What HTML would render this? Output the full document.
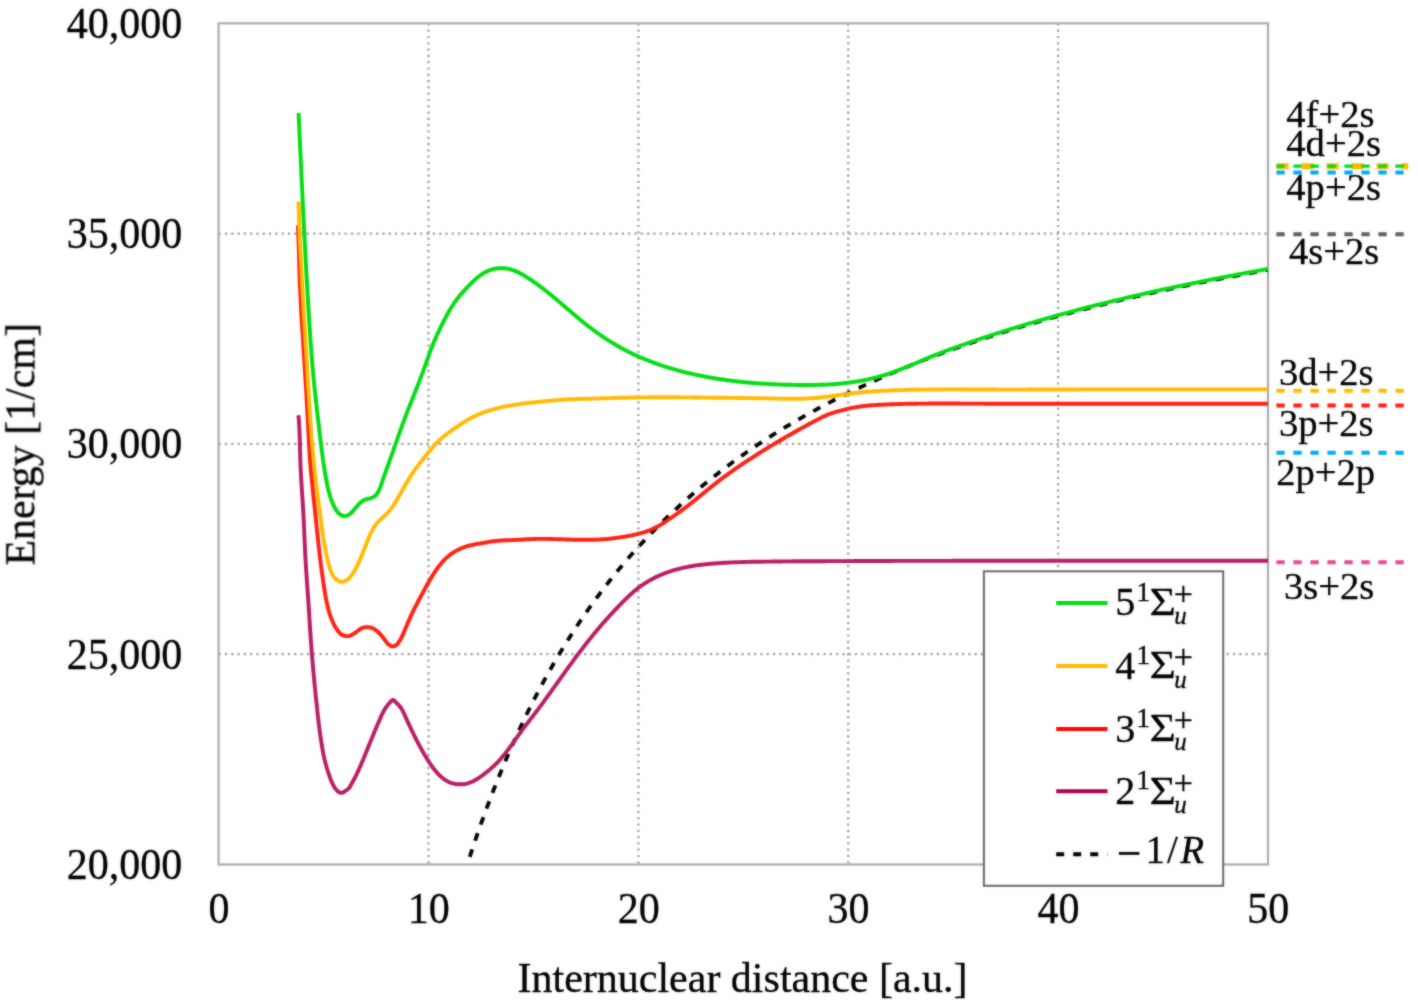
<!DOCTYPE html>
<html><head><meta charset="utf-8"><title>Potential energy curves</title>
<style>html,body{margin:0;padding:0;background:#fff;}body{width:1418px;height:1007px;overflow:hidden;font-family:"Liberation Serif",serif;}svg{display:block;}</style>
</head><body>
<svg width="1418" height="1007" viewBox="0 0 1418 1007">
<rect width="1418" height="1007" fill="#fff"/>
<filter id="bl" color-interpolation-filters="sRGB" x="0" y="0" width="1418" height="1007" filterUnits="userSpaceOnUse"><feGaussianBlur in="SourceGraphic" stdDeviation="1" result="b"/><feComposite in="SourceGraphic" in2="b" operator="arithmetic" k1="0" k2="0.50" k3="0.50" k4="0"/></filter>
<g filter="url(#bl)">
<defs><clipPath id="pc"><rect x="218.6" y="23.3" width="1049.4" height="841.2"/></clipPath></defs>
<path d="M428.5,23.3V864.5 M638.4,23.3V864.5 M848.2,23.3V864.5 M1058.1,23.3V864.5 M218.6,233.6H1268.0 M218.6,443.9H1268.0 M218.6,654.2H1268.0" stroke="#9c9c9c" stroke-width="2.2" stroke-dasharray="2.2 4.1" fill="none"/>
<rect x="218.6" y="23.3" width="1049.4" height="841.2" fill="none" stroke="#ababab" stroke-width="2.2"/>
<g clip-path="url(#pc)">
<path d="M467.3,864.5 469.3,858.3 471.3,852.2 473.3,846.1 475.3,840.2 477.3,834.4 479.3,828.6 481.3,823.0 483.3,817.4 485.3,811.9 487.3,806.5 489.3,801.2 491.3,795.9 493.3,790.7 495.3,785.6 497.3,780.6 499.3,775.7 501.3,770.8 503.3,766.0 505.3,761.2 507.3,756.5 509.3,751.9 511.3,747.4 513.3,742.9 515.3,738.4 517.3,734.1 519.3,729.7 521.3,725.5 523.3,721.3 525.3,717.1 527.3,713.0 529.3,709.0 531.3,705.0 533.3,701.1 535.3,697.2 537.3,693.3 539.3,689.5 541.3,685.8 543.3,682.1 545.3,678.4 547.3,674.8 549.3,671.3 551.3,667.8 553.3,664.3 555.3,660.8 557.3,657.4 559.3,654.1 561.3,650.8 563.3,647.5 565.3,644.2 567.3,641.0 569.3,637.9 571.3,634.7 573.3,631.6 575.3,628.6 577.3,625.5 579.3,622.5 581.3,619.6 583.3,616.6 585.3,613.7 587.3,610.9 589.3,608.0 591.3,605.2 593.3,602.5 595.3,599.7 597.3,597.0 599.3,594.3 601.3,591.6 603.3,589.0 605.3,586.4 607.3,583.8 609.3,581.3 611.3,578.8 613.3,576.3 615.3,573.8 617.3,571.3 619.3,568.9 621.3,566.5 623.3,564.1 625.3,561.8 627.3,559.4 629.3,557.1 631.3,554.8 633.3,552.6 635.3,550.3 637.3,548.1 639.3,545.9 641.3,543.7 643.3,541.6 645.3,539.4 647.3,537.3 649.3,535.2 651.3,533.1 653.3,531.1 655.3,529.0 657.3,527.0 659.3,525.0 661.3,523.0 663.3,521.1 665.3,519.1 667.3,517.2 669.3,515.3 671.3,513.4 673.3,511.5 675.3,509.6 677.3,507.8 679.3,505.9 681.3,504.1 683.3,502.3 685.3,500.5 687.3,498.7 689.3,497.0 691.3,495.2 693.3,493.5 695.3,491.8 697.3,490.1 699.3,488.4 701.3,486.7 703.3,485.1 705.3,483.4 707.3,481.8 709.3,480.2 711.3,478.6 713.3,477.0 715.3,475.4 717.3,473.9 719.3,472.3 721.3,470.8 723.3,469.2 725.3,467.7 727.3,466.2 729.3,464.7 731.3,463.3 733.3,461.8 735.3,460.3 737.3,458.9 739.3,457.5 741.3,456.0 743.3,454.6 745.3,453.2 747.3,451.8 749.3,450.4 751.3,449.1 753.3,447.7 755.3,446.4 757.3,445.0 759.3,443.7 761.3,442.4 763.3,441.1 765.3,439.8 767.3,438.5 769.3,437.2 771.3,435.9 773.3,434.6 775.3,433.4 777.3,432.1 779.3,430.9 781.3,429.7 783.3,428.5 785.3,427.2 787.3,426.0 789.3,424.8 791.3,423.7 793.3,422.5 795.3,421.3 797.3,420.2 799.3,419.0 801.3,417.9 803.3,416.7 805.3,415.6 807.3,414.5 809.3,413.4 811.3,412.2 813.3,411.1 815.3,410.1 817.3,409.0 819.3,407.9 821.3,406.8 823.3,405.8 825.3,404.7 827.3,403.7 829.3,402.6 831.3,401.6 833.3,400.5 835.3,399.5 837.3,398.5 839.3,397.5 841.3,396.5 843.3,395.5 845.3,394.5 847.3,393.5 849.3,392.5 851.3,391.6 853.3,390.6 855.3,389.7 857.3,388.7 859.3,387.8 861.3,386.8 863.3,385.9 865.3,384.9 867.3,384.0 869.3,383.1 871.3,382.2 873.3,381.3 875.3,380.4 877.3,379.5 879.3,378.6 881.3,377.7 883.3,376.8 885.3,376.0 887.3,375.1 889.3,374.2 891.3,373.4 893.3,372.5 895.3,371.7 897.3,370.8 899.3,370.0 901.3,369.1 903.3,368.3 905.3,367.5 907.3,366.7 909.3,365.9 911.3,365.0 913.3,364.2 915.3,363.4 917.3,362.6 919.3,361.9 921.3,361.1 923.3,360.3 925.3,359.5 927.3,358.7 929.3,358.0 931.3,357.2 933.3,356.4 935.3,355.7 937.3,354.9 939.3,354.2 941.3,353.4 943.3,352.7 945.3,352.0 947.3,351.2 949.3,350.5 951.3,349.8 953.3,349.1 955.3,348.3 957.3,347.6 959.3,346.9 961.3,346.2 963.3,345.5 965.3,344.8 967.3,344.1 969.3,343.4 971.3,342.8 973.3,342.1 975.3,341.4 977.3,340.7 979.3,340.0 981.3,339.4 983.3,338.7 985.3,338.0 987.3,337.4 989.3,336.7 991.3,336.1 993.3,335.4 995.3,334.8 997.3,334.2 999.3,333.5 1001.3,332.9 1003.3,332.3 1005.3,331.6 1007.3,331.0 1009.3,330.4 1011.3,329.8 1013.3,329.1 1015.3,328.5 1017.3,327.9 1019.3,327.3 1021.3,326.7 1023.3,326.1 1025.3,325.5 1027.3,324.9 1029.3,324.3 1031.3,323.7 1033.3,323.2 1035.3,322.6 1037.3,322.0 1039.3,321.4 1041.3,320.8 1043.3,320.3 1045.3,319.7 1047.3,319.1 1049.3,318.6 1051.3,318.0 1053.3,317.5 1055.3,316.9 1057.3,316.4 1059.3,315.8 1061.3,315.3 1063.3,314.7 1065.3,314.2 1067.3,313.6 1069.3,313.1 1071.3,312.6 1073.3,312.0 1075.3,311.5 1077.3,311.0 1079.3,310.4 1081.3,309.9 1083.3,309.4 1085.3,308.9 1087.3,308.4 1089.3,307.9 1091.3,307.4 1093.3,306.8 1095.3,306.3 1097.3,305.8 1099.3,305.3 1101.3,304.8 1103.3,304.3 1105.3,303.8 1107.3,303.4 1109.3,302.9 1111.3,302.4 1113.3,301.9 1115.3,301.4 1117.3,300.9 1119.3,300.5 1121.3,300.0 1123.3,299.5 1125.3,299.0 1127.3,298.6 1129.3,298.1 1131.3,297.6 1133.3,297.2 1135.3,296.7 1137.3,296.2 1139.3,295.8 1141.3,295.3 1143.3,294.9 1145.3,294.4 1147.3,294.0 1149.3,293.5 1151.3,293.1 1153.3,292.6 1155.3,292.2 1157.3,291.7 1159.3,291.3 1161.3,290.9 1163.3,290.4 1165.3,290.0 1167.3,289.6 1169.3,289.1 1171.3,288.7 1173.3,288.3 1175.3,287.9 1177.3,287.4 1179.3,287.0 1181.3,286.6 1183.3,286.2 1185.3,285.8 1187.3,285.4 1189.3,284.9 1191.3,284.5 1193.3,284.1 1195.3,283.7 1197.3,283.3 1199.3,282.9 1201.3,282.5 1203.3,282.1 1205.3,281.7 1207.3,281.3 1209.3,280.9 1211.3,280.5 1213.3,280.1 1215.3,279.7 1217.3,279.3 1219.3,279.0 1221.3,278.6 1223.3,278.2 1225.3,277.8 1227.3,277.4 1229.3,277.0 1231.3,276.7 1233.3,276.3 1235.3,275.9 1237.3,275.5 1239.3,275.2 1241.3,274.8 1243.3,274.4 1245.3,274.1 1247.3,273.7 1249.3,273.3 1251.3,273.0 1253.3,272.6 1255.3,272.2 1257.3,271.9 1259.3,271.5 1261.3,271.2 1263.3,270.8 1265.3,270.4 1267.3,270.1 1268.0,270.0" stroke="#000" stroke-width="3.8" stroke-dasharray="8 9" stroke-dashoffset="9" fill="none"/>
<path d="M298.4,415.2 298.5,416.2 298.6,417.2 298.7,418.2 298.8,419.2 298.9,420.2 298.9,421.2 299.0,422.2 299.1,423.2 299.1,424.2 299.2,425.2 299.2,426.2 299.3,427.2 299.3,428.2 299.4,429.2 299.4,430.2 299.5,431.2 299.5,432.2 299.6,433.2 299.6,434.2 299.6,435.2 299.7,436.2 299.7,437.2 299.7,438.2 299.8,439.2 299.8,440.2 299.8,441.2 299.8,442.2 299.9,443.2 299.9,444.2 299.9,445.2 299.9,446.2 300.0,447.2 300.0,448.1 300.0,449.1 300.0,450.1 300.1,451.1 300.1,452.1 300.1,453.1 300.1,454.1 300.2,455.1 300.2,456.1 300.2,457.1 300.3,458.1 300.3,459.1 300.3,460.1 300.3,461.1 300.4,462.1 300.4,463.1 300.5,464.1 300.5,465.1 300.5,466.1 300.6,467.1 300.6,468.1 300.7,469.1 300.7,470.1 300.8,471.1 300.8,472.1 300.9,473.1 300.9,474.1 301.0,475.1 301.0,476.1 301.1,477.1 301.1,478.1 301.2,479.1 301.3,480.1 301.3,481.1 301.4,482.1 301.4,483.1 301.5,484.1 301.6,485.1 301.6,486.1 301.7,487.1 301.8,488.1 301.8,489.1 301.9,490.1 302.0,491.1 302.0,492.1 302.1,493.1 302.2,494.1 302.2,495.1 302.3,496.1 302.4,497.1 302.4,498.0 302.5,499.0 302.6,500.0 302.6,501.0 302.7,502.0 302.8,503.0 302.8,504.0 302.9,505.0 302.9,506.0 303.0,507.0 303.1,508.0 303.1,509.0 303.2,510.0 303.2,511.0 303.3,512.0 303.3,513.0 303.4,514.0 303.5,515.0 303.5,516.0 303.6,517.0 303.6,518.0 303.7,519.0 303.7,520.0 303.8,521.0 303.8,522.0 303.8,523.0 303.9,524.0 303.9,525.0 304.0,526.0 304.0,527.0 304.1,528.0 304.1,529.0 304.2,530.0 304.2,531.0 304.2,532.0 304.3,533.0 304.3,534.0 304.4,535.0 304.4,536.0 304.5,537.0 304.5,538.0 304.5,539.0 304.6,540.0 304.6,541.0 304.7,542.0 304.7,543.0 304.8,544.0 304.8,545.0 304.9,546.0 304.9,547.0 304.9,548.0 305.0,549.0 305.0,550.0 305.1,550.9 305.1,551.9 305.2,552.9 305.2,553.9 305.3,554.9 305.3,555.9 305.4,556.9 305.4,557.9 305.5,558.9 305.6,559.9 305.6,560.9 305.7,561.9 305.7,562.9 305.8,563.9 305.9,564.9 305.9,565.9 306.0,566.9 306.0,567.9 306.1,568.9 306.2,569.9 306.2,570.9 306.3,571.9 306.4,572.9 306.4,573.9 306.5,574.9 306.6,575.9 306.6,576.9 306.7,577.9 306.8,578.9 306.8,579.9 306.9,580.9 307.0,581.9 307.0,582.9 307.1,583.9 307.2,584.9 307.3,585.9 307.3,586.9 307.4,587.8 307.5,588.8 307.5,589.8 307.6,590.8 307.7,591.8 307.7,592.8 307.8,593.8 307.9,594.8 308.0,595.8 308.0,596.8 308.1,597.8 308.2,598.8 308.2,599.8 308.3,600.8 308.4,601.8 308.4,602.8 308.5,603.8 308.6,604.8 308.6,605.8 308.7,606.8 308.8,607.8 308.8,608.8 308.9,609.8 309.0,610.8 309.0,611.8 309.1,612.8 309.2,613.8 309.2,614.8 309.3,615.8 309.3,616.8 309.4,617.8 309.5,618.8 309.5,619.8 309.6,620.8 309.7,621.8 309.7,622.7 309.8,623.7 309.8,624.7 309.9,625.7 310.0,626.7 310.0,627.7 310.1,628.7 310.2,629.7 310.2,630.7 310.3,631.7 310.4,632.7 310.4,633.7 310.5,634.7 310.6,635.7 310.6,636.7 310.7,637.7 310.8,638.7 310.8,639.7 310.9,640.7 311.0,641.7 311.0,642.7 311.1,643.7 311.2,644.7 311.3,645.7 311.3,646.7 311.4,647.7 311.5,648.7 311.6,649.7 311.6,650.7 311.7,651.7 311.8,652.7 311.9,653.7 311.9,654.6 312.0,655.6 312.1,656.6 312.2,657.6 312.3,658.6 312.4,659.6 312.4,660.6 312.5,661.6 312.6,662.6 312.7,663.6 312.8,664.6 312.9,665.6 313.0,666.6 313.0,667.6 313.1,668.6 313.2,669.6 313.3,670.6 313.4,671.6 313.5,672.6 313.6,673.6 313.7,674.6 313.8,675.6 313.9,676.5 314.0,677.5 314.1,678.5 314.2,679.5 314.3,680.5 314.3,681.5 314.4,682.5 314.5,683.5 314.6,684.5 314.7,685.5 314.8,686.5 314.9,687.5 315.0,688.5 315.1,689.5 315.2,690.5 315.3,691.5 315.4,692.5 315.5,693.5 315.6,694.4 315.7,695.4 315.8,696.4 315.9,697.4 316.0,698.4 316.1,699.4 316.2,700.4 316.3,701.4 316.4,702.4 316.5,703.4 316.7,704.4 316.8,705.4 316.9,706.4 317.0,707.4 317.1,708.4 317.2,709.4 317.3,710.4 317.4,711.4 317.5,712.3 317.6,713.3 317.7,714.3 317.8,715.3 317.9,716.3 318.0,717.3 318.2,718.3 318.3,719.3 318.4,720.3 318.5,721.3 318.6,722.3 318.7,723.3 318.9,724.3 319.0,725.3 319.1,726.2 319.2,727.2 319.3,728.2 319.5,729.2 319.6,730.2 319.7,731.2 319.9,732.2 320.0,733.2 320.1,734.2 320.3,735.2 320.4,736.1 320.6,737.1 320.7,738.1 320.8,739.1 321.0,740.1 321.1,741.1 321.3,742.1 321.5,743.1 321.6,744.0 321.8,745.0 321.9,746.0 322.1,747.0 322.3,748.0 322.4,749.0 322.6,750.0 322.8,750.9 323.0,751.9 323.1,752.9 323.3,753.9 323.5,754.9 323.7,755.8 323.9,756.8 324.2,757.8 324.4,758.8 324.6,759.7 324.9,760.7 325.1,761.7 325.4,762.6 325.6,763.6 325.9,764.6 326.2,765.5 326.5,766.5 326.7,767.5 327.0,768.4 327.3,769.4 327.6,770.3 327.9,771.3 328.2,772.2 328.5,773.2 328.8,774.1 329.1,775.0 329.4,776.0 329.8,776.9 330.1,777.9 330.4,778.8 330.8,779.7 331.2,780.7 331.6,781.6 332.0,782.5 332.4,783.4 332.8,784.3 333.3,785.2 333.8,786.1 334.3,787.0 334.8,787.8 335.4,788.6 336.0,789.4 336.6,790.2 337.3,790.9 338.0,791.5 338.8,792.0 339.7,792.5 340.6,792.7 341.5,792.8 342.5,792.6 343.3,792.3 344.2,791.8 345.1,791.2 345.9,790.6 346.8,790.0 347.6,789.4 348.4,788.8 349.0,788.1 349.6,787.4 350.1,786.5 350.5,785.6 351.0,784.8 351.5,783.9 352.0,783.0 352.5,782.1 353.0,781.2 353.5,780.4 354.0,779.5 354.4,778.6 354.9,777.7 355.3,776.8 355.8,775.9 356.2,775.0 356.7,774.1 357.1,773.2 357.5,772.3 357.9,771.4 358.4,770.5 358.8,769.6 359.2,768.7 359.6,767.8 360.0,766.9 360.4,766.0 360.8,765.1 361.2,764.1 361.6,763.2 362.0,762.3 362.4,761.4 362.8,760.5 363.2,759.5 363.5,758.6 363.9,757.7 364.3,756.8 364.7,755.8 365.1,754.9 365.4,754.0 365.8,753.1 366.2,752.1 366.6,751.2 366.9,750.3 367.3,749.4 367.7,748.4 368.1,747.5 368.4,746.6 368.8,745.6 369.2,744.7 369.6,743.8 369.9,742.9 370.3,741.9 370.7,741.0 371.1,740.1 371.5,739.2 371.8,738.2 372.2,737.3 372.6,736.4 373.0,735.5 373.4,734.6 373.7,733.6 374.1,732.7 374.5,731.8 374.9,730.9 375.3,730.0 375.7,729.0 376.0,728.1 376.4,727.2 376.8,726.3 377.2,725.4 377.6,724.4 378.0,723.5 378.4,722.6 378.8,721.7 379.2,720.7 379.6,719.8 380.0,718.9 380.4,718.0 380.8,717.0 381.2,716.1 381.6,715.2 382.0,714.3 382.5,713.4 382.9,712.5 383.4,711.7 383.9,710.8 384.4,709.9 384.9,709.1 385.4,708.3 385.9,707.5 386.5,706.7 387.1,705.9 387.7,705.1 388.3,704.3 389.0,703.5 389.7,702.7 390.4,701.9 391.1,701.1 391.8,700.4 392.6,700.0 393.3,700.0 394.0,700.3 394.7,701.0 395.4,701.8 396.1,702.6 396.9,703.3 397.6,704.0 398.4,704.8 399.1,705.5 399.7,706.3 400.3,707.0 400.9,707.8 401.4,708.6 401.9,709.5 402.4,710.3 402.8,711.2 403.3,712.1 403.7,712.9 404.2,713.8 404.6,714.7 405.0,715.7 405.4,716.6 405.8,717.5 406.2,718.4 406.6,719.3 407.0,720.2 407.4,721.2 407.9,722.1 408.3,723.0 408.7,723.9 409.1,724.8 409.5,725.7 410.0,726.6 410.4,727.5 410.8,728.4 411.2,729.3 411.7,730.2 412.1,731.1 412.5,732.0 413.0,732.9 413.4,733.8 413.8,734.7 414.3,735.6 414.7,736.5 415.2,737.4 415.6,738.3 416.1,739.2 416.5,740.1 417.0,741.0 417.5,741.9 417.9,742.8 418.4,743.6 418.9,744.5 419.3,745.4 419.8,746.3 420.3,747.1 420.8,748.0 421.3,748.9 421.7,749.8 422.2,750.6 422.7,751.5 423.2,752.4 423.7,753.2 424.2,754.1 424.7,755.0 425.2,755.8 425.7,756.7 426.3,757.5 426.8,758.4 427.3,759.2 427.8,760.1 428.4,760.9 428.9,761.8 429.4,762.6 430.0,763.5 430.5,764.3 431.1,765.1 431.7,765.9 432.3,766.7 432.8,767.5 433.4,768.3 434.1,769.1 434.7,769.9 435.3,770.7 435.9,771.4 436.6,772.2 437.3,772.9 437.9,773.7 438.6,774.4 439.3,775.1 440.1,775.8 440.8,776.5 441.6,777.2 442.3,777.8 443.1,778.4 443.9,779.0 444.7,779.6 445.6,780.2 446.4,780.7 447.3,781.2 448.1,781.7 449.0,782.1 450.0,782.5 450.9,782.8 451.8,783.1 452.8,783.4 453.7,783.7 454.7,783.9 455.7,784.0 456.7,784.2 457.7,784.3 458.7,784.3 459.7,784.3 460.7,784.3 461.7,784.3 462.7,784.2 463.7,784.1 464.7,784.0 465.6,783.8 466.6,783.6 467.6,783.3 468.6,783.0 469.5,782.7 470.4,782.4 471.4,782.0 472.3,781.6 473.2,781.2 474.1,780.7 474.9,780.2 475.8,779.7 476.7,779.2 477.5,778.7 478.4,778.2 479.2,777.6 480.0,777.1 480.8,776.5 481.6,775.9 482.5,775.4 483.2,774.8 484.0,774.2 484.8,773.5 485.6,772.9 486.4,772.3 487.2,771.7 488.0,771.0 488.7,770.4 489.5,769.8 490.3,769.1 491.0,768.5 491.8,767.8 492.5,767.1 493.3,766.5 494.0,765.8 494.7,765.1 495.5,764.4 496.2,763.7 496.9,763.0 497.6,762.3 498.3,761.5 498.9,760.8 499.6,760.1 500.3,759.3 500.9,758.6 501.6,757.8 502.2,757.1 502.9,756.3 503.5,755.5 504.1,754.8 504.8,754.0 505.4,753.2 506.0,752.4 506.6,751.6 507.2,750.8 507.8,750.1 508.4,749.3 509.0,748.5 509.6,747.6 510.2,746.8 510.8,746.0 511.4,745.2 512.0,744.4 512.5,743.6 513.1,742.8 513.7,742.0 514.3,741.1 514.9,740.3 515.4,739.5 516.0,738.7 516.6,737.9 517.2,737.1 517.7,736.2 518.3,735.4 518.9,734.6 519.5,733.8 520.1,733.0 520.7,732.2 521.2,731.4 521.8,730.6 522.4,729.7 523.0,728.9 523.6,728.1 524.2,727.3 524.8,726.6 525.4,725.8 526.0,725.0 526.6,724.2 527.3,723.4 527.9,722.6 528.5,721.8 529.1,721.0 529.7,720.2 530.3,719.4 530.9,718.7 531.5,717.9 532.2,717.1 532.8,716.3 533.4,715.5 534.0,714.7 534.6,713.9 535.2,713.1 535.8,712.3 536.4,711.5 537.0,710.7 537.6,710.0 538.2,709.2 538.8,708.4 539.4,707.5 540.0,706.7 540.6,705.9 541.2,705.1 541.8,704.3 542.4,703.5 543.0,702.7 543.6,701.9 544.2,701.1 544.7,700.3 545.3,699.5 545.9,698.7 546.5,697.9 547.1,697.1 547.7,696.2 548.3,695.4 548.8,694.6 549.4,693.8 550.0,693.0 550.6,692.2 551.2,691.4 551.7,690.6 552.3,689.7 552.9,688.9 553.5,688.1 554.1,687.3 554.7,686.5 555.2,685.7 555.8,684.9 556.4,684.1 557.0,683.2 557.6,682.4 558.1,681.6 558.7,680.8 559.3,680.0 559.9,679.2 560.5,678.4 561.0,677.6 561.6,676.7 562.2,675.9 562.8,675.1 563.4,674.3 564.0,673.5 564.5,672.7 565.1,671.9 565.7,671.1 566.3,670.2 566.9,669.4 567.5,668.6 568.0,667.8 568.6,667.0 569.2,666.2 569.8,665.4 570.4,664.6 571.0,663.8 571.6,663.0 572.2,662.2 572.8,661.4 573.4,660.6 573.9,659.8 574.5,659.0 575.1,658.2 575.7,657.3 576.3,656.5 576.9,655.7 577.5,654.9 578.1,654.1 578.7,653.3 579.3,652.6 579.9,651.8 580.5,651.0 581.1,650.2 581.8,649.4 582.4,648.6 583.0,647.8 583.6,647.0 584.2,646.2 584.8,645.4 585.4,644.6 586.0,643.8 586.6,643.0 587.3,642.3 587.9,641.5 588.5,640.7 589.1,639.9 589.7,639.1 590.4,638.4 591.0,637.6 591.6,636.8 592.3,636.0 592.9,635.2 593.5,634.5 594.1,633.7 594.8,632.9 595.4,632.2 596.1,631.4 596.7,630.6 597.3,629.9 598.0,629.1 598.6,628.3 599.3,627.6 599.9,626.8 600.6,626.0 601.2,625.3 601.9,624.5 602.5,623.8 603.2,623.0 603.8,622.3 604.5,621.5 605.2,620.8 605.8,620.0 606.5,619.3 607.2,618.5 607.8,617.8 608.5,617.1 609.2,616.3 609.8,615.6 610.5,614.9 611.2,614.1 611.9,613.4 612.6,612.7 613.2,611.9 613.9,611.2 614.6,610.5 615.3,609.7 616.0,609.0 616.7,608.3 617.4,607.6 618.1,606.8 618.7,606.1 619.4,605.4 620.1,604.7 620.8,604.0 621.5,603.3 622.2,602.5 622.9,601.8 623.6,601.1 624.3,600.4 625.1,599.7 625.8,599.0 626.5,598.3 627.2,597.6 627.9,596.9 628.6,596.2 629.4,595.5 630.1,594.9 630.8,594.2 631.6,593.5 632.3,592.9 633.1,592.2 633.8,591.5 634.6,590.9 635.4,590.3 636.1,589.6 636.9,589.0 637.7,588.4 638.5,587.8 639.3,587.2 640.1,586.6 640.9,586.0 641.7,585.4 642.5,584.9 643.4,584.3 644.2,583.8 645.0,583.2 645.9,582.7 646.7,582.2 647.6,581.6 648.4,581.1 649.3,580.6 650.1,580.1 651.0,579.6 651.9,579.2 652.8,578.7 653.7,578.2 654.6,577.8 655.4,577.3 656.3,576.9 657.2,576.5 658.2,576.1 659.1,575.6 660.0,575.2 660.9,574.8 661.8,574.5 662.8,574.1 663.7,573.7 664.6,573.4 665.5,573.0 666.5,572.7 667.4,572.3 668.4,572.0 669.3,571.7 670.3,571.3 671.2,571.0 672.2,570.7 673.1,570.4 674.1,570.2 675.0,569.9 676.0,569.6 677.0,569.3 677.9,569.1 678.9,568.8 679.9,568.6 680.8,568.4 681.8,568.1 682.8,567.9 683.7,567.7 684.7,567.5 685.7,567.3 686.7,567.1 687.7,566.9 688.6,566.7 689.6,566.5 690.6,566.3 691.6,566.2 692.6,566.0 693.5,565.8 694.5,565.7 695.5,565.5 696.5,565.4 697.5,565.2 698.5,565.1 699.5,565.0 700.5,564.8 701.5,564.7 702.4,564.6 703.4,564.5 704.4,564.4 705.4,564.3 706.4,564.2 707.4,564.1 708.4,564.0 709.4,563.9 710.4,563.8 711.4,563.7 712.4,563.6 713.4,563.5 714.4,563.5 715.4,563.4 716.4,563.3 717.4,563.2 718.4,563.2 719.4,563.1 720.4,563.0 721.4,563.0 722.4,562.9 723.4,562.8 724.4,562.8 725.4,562.7 726.4,562.7 727.4,562.6 728.4,562.6 729.4,562.5 730.4,562.5 731.4,562.4 732.4,562.4 733.4,562.4 734.4,562.3 735.4,562.3 736.4,562.2 737.4,562.2 738.4,562.2 739.3,562.1 740.3,562.1 741.3,562.1 742.3,562.0 743.3,562.0 744.3,562.0 745.3,562.0 746.3,561.9 747.3,561.9 748.3,561.9 749.3,561.9 750.3,561.9 751.3,561.8 752.3,561.8 753.3,561.8 754.3,561.8 755.3,561.8 756.3,561.7 757.3,561.7 758.3,561.7 759.3,561.7 760.3,561.7 761.3,561.7 762.3,561.7 763.3,561.6 764.3,561.6 765.3,561.6 766.3,561.6 767.3,561.6 768.3,561.6 769.3,561.6 770.3,561.6 771.3,561.6 772.3,561.5 773.3,561.5 774.3,561.5 775.3,561.5 776.3,561.5 777.3,561.5 778.3,561.5 779.3,561.5 780.3,561.5 781.3,561.5 782.3,561.4 783.3,561.4 784.3,561.4 785.3,561.4 786.3,561.4 787.3,561.4 788.3,561.4 789.3,561.4 790.3,561.4 791.3,561.4 792.3,561.4 793.3,561.3 794.3,561.3 795.3,561.3 796.3,561.3 797.3,561.3 798.3,561.3 799.3,561.3 800.3,561.3 801.3,561.3 802.3,561.3 803.3,561.3 804.3,561.3 805.3,561.3 806.3,561.3 807.3,561.2 808.3,561.2 809.3,561.2 810.3,561.2 811.3,561.2 812.3,561.2 813.3,561.2 814.3,561.2 815.3,561.2 816.3,561.2 817.3,561.2 818.3,561.2 819.3,561.2 820.3,561.2 821.3,561.2 822.3,561.2 823.3,561.2 824.3,561.2 825.3,561.2 826.3,561.1 827.3,561.1 828.3,561.1 829.3,561.1 830.3,561.1 831.3,561.1 832.3,561.1 833.3,561.1 834.3,561.1 835.3,561.1 836.3,561.1 837.3,561.1 838.3,561.1 839.3,561.1 840.3,561.1 841.3,561.1 842.3,561.1 843.3,561.1 844.3,561.1 845.3,561.1 846.3,561.1 847.3,561.1 848.3,561.1 849.3,561.1 850.3,561.1 851.3,561.1 852.3,561.1 853.3,561.0 854.3,561.0 855.3,561.0 856.3,561.0 857.3,561.0 858.3,561.0 859.3,561.0 860.3,561.0 861.3,561.0 862.3,561.0 863.3,561.0 864.3,561.0 865.3,561.0 866.3,561.0 867.3,561.0 868.3,561.0 869.2,561.0 870.2,561.0 871.2,561.0 872.2,561.0 873.2,561.0 874.2,561.0 875.2,561.0 876.2,561.0 877.2,561.0 878.2,561.0 879.2,561.0 880.2,561.0 881.2,561.0 882.2,561.0 883.2,561.0 884.2,561.0 885.2,561.0 886.2,561.0 887.2,561.0 888.2,561.0 889.2,561.0 890.2,561.0 891.2,561.0 892.2,561.0 893.2,560.9 894.2,560.9 895.2,560.9 896.2,560.9 897.2,560.9 898.2,560.9 899.2,560.9 900.2,560.9 901.2,560.9 902.2,560.9 903.2,560.9 904.2,560.9 905.2,560.9 906.2,560.9 907.2,560.9 908.2,560.9 909.2,560.9 910.2,560.9 911.2,560.9 912.2,560.9 913.2,560.9 914.2,560.9 915.2,560.9 916.2,560.9 917.2,560.9 918.2,560.9 919.2,560.9 920.2,560.9 921.2,560.9 922.2,560.9 923.2,560.9 924.2,560.9 925.2,560.9 926.2,560.9 927.2,560.9 928.2,560.9 929.2,560.9 930.2,560.9 931.2,560.9 932.2,560.9 933.2,560.9 934.2,560.9 935.2,560.9 936.2,560.9 937.2,560.9 938.2,560.9 939.2,560.9 940.2,560.9 941.2,560.9 942.2,560.9 943.2,560.9 944.2,560.9 945.2,560.9 946.2,560.9 947.2,560.9 948.2,560.9 949.2,560.9 950.2,560.9 951.2,560.9 952.2,560.9 953.2,560.8 954.2,560.8 955.2,560.8 956.2,560.8 957.2,560.8 958.2,560.8 959.2,560.8 960.2,560.8 961.2,560.8 962.2,560.8 963.2,560.8 964.2,560.8 965.2,560.8 966.2,560.8 967.2,560.8 968.2,560.8 969.2,560.8 970.2,560.8 971.2,560.8 972.2,560.8 973.2,560.8 974.2,560.8 975.2,560.8 976.2,560.8 977.2,560.8 978.2,560.8 979.2,560.8 980.2,560.8 981.2,560.8 982.2,560.8 983.2,560.8 984.2,560.8 985.2,560.8 986.2,560.8 987.2,560.8 988.2,560.8 989.2,560.8 990.2,560.8 991.2,560.8 992.2,560.8 993.2,560.8 994.2,560.8 995.2,560.8 996.2,560.8 997.2,560.8 998.2,560.8 999.2,560.8 1000.2,560.8 1001.2,560.8 1002.2,560.8 1003.2,560.8 1004.2,560.8 1005.2,560.8 1006.2,560.8 1007.2,560.8 1008.2,560.8 1009.2,560.8 1010.2,560.8 1011.2,560.8 1012.2,560.8 1013.2,560.8 1014.2,560.8 1015.2,560.8 1016.2,560.8 1017.2,560.8 1018.2,560.8 1019.2,560.8 1020.2,560.8 1021.2,560.8 1022.2,560.8 1023.2,560.8 1024.2,560.8 1025.2,560.8 1026.2,560.8 1027.2,560.8 1028.2,560.8 1029.2,560.8 1030.1,560.8 1031.1,560.8 1032.1,560.8 1033.1,560.8 1034.1,560.8 1035.1,560.8 1036.1,560.8 1037.1,560.8 1038.1,560.8 1039.1,560.8 1040.1,560.8 1041.1,560.8 1042.1,560.8 1043.1,560.8 1044.1,560.8 1045.1,560.8 1046.1,560.8 1047.1,560.8 1048.1,560.8 1049.1,560.8 1050.1,560.8 1051.1,560.8 1052.1,560.8 1053.1,560.8 1054.1,560.8 1055.1,560.8 1056.1,560.8 1057.1,560.8 1058.1,560.8 1059.1,560.8 1060.1,560.8 1061.1,560.8 1062.1,560.8 1063.1,560.8 1064.1,560.8 1065.1,560.8 1066.1,560.8 1067.1,560.8 1068.1,560.8 1069.1,560.8 1070.1,560.8 1071.1,560.8 1072.1,560.8 1073.1,560.8 1074.1,560.8 1075.1,560.8 1076.1,560.8 1077.1,560.8 1078.1,560.8 1079.1,560.8 1080.1,560.8 1081.1,560.8 1082.1,560.8 1083.1,560.8 1084.1,560.8 1085.1,560.8 1086.1,560.8 1087.1,560.8 1088.1,560.8 1089.1,560.8 1090.1,560.8 1091.1,560.8 1092.1,560.8 1093.1,560.8 1094.1,560.8 1095.1,560.8 1096.1,560.8 1097.1,560.8 1098.1,560.8 1099.1,560.8 1100.1,560.8 1101.1,560.8 1102.1,560.8 1103.1,560.8 1104.1,560.8 1105.1,560.8 1106.1,560.8 1107.1,560.8 1108.1,560.8 1109.1,560.8 1110.1,560.8 1111.1,560.8 1112.1,560.8 1113.1,560.8 1114.1,560.8 1115.1,560.8 1116.1,560.8 1117.1,560.8 1118.1,560.8 1119.1,560.8 1120.1,560.8 1121.1,560.8 1122.1,560.8 1123.1,560.8 1124.1,560.8 1125.1,560.8 1126.1,560.8 1127.1,560.8 1128.1,560.8 1129.1,560.8 1130.1,560.8 1131.1,560.8 1132.1,560.8 1133.1,560.8 1134.1,560.8 1135.1,560.8 1136.1,560.8 1137.1,560.8 1138.1,560.8 1139.1,560.8 1140.1,560.8 1141.1,560.8 1142.1,560.8 1143.1,560.8 1144.1,560.8 1145.1,560.8 1146.1,560.8 1147.1,560.8 1148.1,560.8 1149.1,560.8 1150.1,560.8 1151.1,560.7 1152.1,560.7 1153.1,560.7 1154.1,560.7 1155.1,560.7 1156.1,560.7 1157.1,560.7 1158.1,560.7 1159.1,560.7 1160.1,560.7 1161.1,560.7 1162.1,560.7 1163.1,560.7 1164.1,560.7 1165.1,560.7 1166.1,560.7 1167.1,560.7 1168.1,560.7 1169.1,560.7 1170.1,560.7 1171.1,560.7 1172.1,560.7 1173.1,560.7 1174.1,560.7 1175.1,560.7 1176.1,560.7 1177.1,560.7 1178.1,560.7 1179.1,560.7 1180.1,560.7 1181.1,560.7 1182.1,560.7 1183.1,560.7 1184.1,560.7 1185.1,560.7 1186.1,560.7 1187.1,560.7 1188.0,560.7 1189.0,560.7 1190.0,560.7 1191.0,560.7 1192.0,560.7 1193.0,560.7 1194.0,560.7 1195.0,560.7 1196.0,560.7 1197.0,560.7 1198.0,560.7 1199.0,560.7 1200.0,560.7 1201.0,560.7 1202.0,560.7 1203.0,560.7 1204.0,560.7 1205.0,560.7 1206.0,560.7 1207.0,560.7 1208.0,560.7 1209.0,560.7 1210.0,560.7 1211.0,560.7 1212.0,560.7 1213.0,560.7 1214.0,560.7 1215.0,560.7 1216.0,560.7 1217.0,560.7 1218.0,560.7 1219.0,560.7 1220.0,560.7 1221.0,560.7 1222.0,560.7 1223.0,560.7 1224.0,560.7 1225.0,560.7 1226.0,560.7 1227.0,560.7 1228.0,560.7 1229.0,560.7 1230.0,560.7 1231.0,560.7 1232.0,560.7 1233.0,560.7 1234.0,560.7 1235.0,560.7 1236.0,560.7 1237.0,560.7 1238.0,560.7 1239.0,560.7 1240.0,560.7 1241.0,560.7 1242.0,560.7 1243.0,560.7 1244.0,560.7 1245.0,560.7 1246.0,560.7 1247.0,560.7 1248.0,560.7 1249.0,560.7 1250.0,560.7 1251.0,560.7 1252.0,560.7 1253.0,560.7 1254.0,560.7 1255.0,560.7 1256.0,560.7 1257.0,560.7 1258.0,560.7 1259.0,560.7 1260.0,560.7 1261.0,560.7 1262.0,560.7 1263.0,560.7 1264.0,560.7 1265.0,560.7 1266.0,560.7 1267.0,560.7 1268.0,560.7" stroke="#b81a62" stroke-width="3.9" fill="none" stroke-linejoin="round"/>
<path d="M297.9,225.3 298.0,226.3 298.0,227.3 298.1,228.3 298.1,229.3 298.1,230.3 298.2,231.3 298.2,232.3 298.3,233.3 298.3,234.3 298.3,235.3 298.4,236.3 298.4,237.3 298.4,238.3 298.5,239.3 298.5,240.3 298.5,241.3 298.6,242.3 298.6,243.3 298.6,244.3 298.7,245.3 298.7,246.3 298.7,247.3 298.8,248.3 298.8,249.3 298.8,250.3 298.8,251.3 298.9,252.3 298.9,253.3 298.9,254.3 299.0,255.3 299.0,256.3 299.0,257.3 299.0,258.3 299.1,259.3 299.1,260.3 299.1,261.3 299.2,262.3 299.2,263.3 299.2,264.3 299.2,265.3 299.3,266.3 299.3,267.3 299.3,268.3 299.4,269.3 299.4,270.3 299.4,271.3 299.5,272.3 299.5,273.3 299.5,274.3 299.6,275.3 299.6,276.3 299.6,277.3 299.7,278.3 299.7,279.2 299.7,280.2 299.8,281.2 299.8,282.2 299.9,283.2 299.9,284.2 299.9,285.2 300.0,286.2 300.0,287.2 300.1,288.2 300.1,289.2 300.2,290.2 300.2,291.2 300.3,292.2 300.3,293.2 300.4,294.2 300.4,295.2 300.5,296.2 300.5,297.2 300.6,298.2 300.6,299.2 300.7,300.2 300.7,301.2 300.8,302.2 300.8,303.2 300.9,304.2 300.9,305.2 301.0,306.2 301.0,307.2 301.1,308.2 301.1,309.2 301.2,310.2 301.3,311.2 301.3,312.2 301.4,313.2 301.4,314.2 301.5,315.2 301.5,316.2 301.6,317.2 301.7,318.2 301.7,319.2 301.8,320.2 301.8,321.2 301.9,322.2 302.0,323.2 302.0,324.2 302.1,325.2 302.1,326.2 302.2,327.2 302.3,328.2 302.3,329.2 302.4,330.2 302.4,331.2 302.5,332.1 302.6,333.1 302.6,334.1 302.7,335.1 302.8,336.1 302.8,337.1 302.9,338.1 302.9,339.1 303.0,340.1 303.1,341.1 303.1,342.1 303.2,343.1 303.3,344.1 303.3,345.1 303.4,346.1 303.4,347.1 303.5,348.1 303.6,349.1 303.6,350.1 303.7,351.1 303.8,352.1 303.8,353.1 303.9,354.1 304.0,355.1 304.0,356.1 304.1,357.1 304.1,358.1 304.2,359.1 304.3,360.1 304.3,361.1 304.4,362.1 304.5,363.1 304.5,364.1 304.6,365.1 304.6,366.1 304.7,367.1 304.8,368.1 304.8,369.1 304.9,370.1 305.0,371.1 305.0,372.0 305.1,373.0 305.2,374.0 305.2,375.0 305.3,376.0 305.3,377.0 305.4,378.0 305.5,379.0 305.5,380.0 305.6,381.0 305.6,382.0 305.7,383.0 305.8,384.0 305.8,385.0 305.9,386.0 306.0,387.0 306.0,388.0 306.1,389.0 306.1,390.0 306.2,391.0 306.3,392.0 306.3,393.0 306.4,394.0 306.4,395.0 306.5,396.0 306.5,397.0 306.6,398.0 306.7,399.0 306.7,400.0 306.8,401.0 306.8,402.0 306.9,403.0 306.9,404.0 307.0,405.0 307.1,406.0 307.1,407.0 307.2,408.0 307.2,409.0 307.3,410.0 307.3,411.0 307.4,412.0 307.4,413.0 307.5,414.0 307.5,415.0 307.6,416.0 307.7,417.0 307.7,418.0 307.8,419.0 307.8,419.9 307.9,420.9 307.9,421.9 308.0,422.9 308.0,423.9 308.1,424.9 308.1,425.9 308.2,426.9 308.2,427.9 308.3,428.9 308.3,429.9 308.4,430.9 308.4,431.9 308.5,432.9 308.5,433.9 308.6,434.9 308.6,435.9 308.7,436.9 308.7,437.9 308.8,438.9 308.8,439.9 308.9,440.9 308.9,441.9 309.0,442.9 309.1,443.9 309.1,444.9 309.2,445.9 309.2,446.9 309.3,447.9 309.4,448.9 309.4,449.9 309.5,450.9 309.5,451.9 309.6,452.9 309.7,453.9 309.7,454.9 309.8,455.9 309.9,456.9 309.9,457.9 310.0,458.9 310.1,459.9 310.1,460.9 310.2,461.9 310.3,462.9 310.4,463.9 310.5,464.9 310.5,465.8 310.6,466.8 310.7,467.8 310.8,468.8 310.9,469.8 310.9,470.8 311.0,471.8 311.1,472.8 311.2,473.8 311.3,474.8 311.4,475.8 311.5,476.8 311.6,477.8 311.7,478.8 311.8,479.8 311.9,480.8 312.0,481.8 312.1,482.8 312.2,483.8 312.3,484.8 312.4,485.7 312.5,486.7 312.6,487.7 312.7,488.7 312.8,489.7 312.9,490.7 313.0,491.7 313.1,492.7 313.2,493.7 313.3,494.7 313.4,495.7 313.5,496.7 313.6,497.7 313.7,498.7 313.8,499.7 313.9,500.7 314.0,501.6 314.1,502.6 314.2,503.6 314.4,504.6 314.5,505.6 314.6,506.6 314.7,507.6 314.8,508.6 314.9,509.6 315.0,510.6 315.1,511.6 315.2,512.6 315.3,513.6 315.4,514.6 315.5,515.6 315.6,516.6 315.7,517.6 315.8,518.6 315.9,519.5 316.0,520.5 316.1,521.5 316.2,522.5 316.3,523.5 316.4,524.5 316.5,525.5 316.6,526.5 316.7,527.5 316.8,528.5 316.9,529.5 317.0,530.5 317.1,531.5 317.2,532.5 317.4,533.5 317.5,534.5 317.6,535.5 317.7,536.5 317.8,537.5 317.9,538.4 318.0,539.4 318.1,540.4 318.2,541.4 318.3,542.4 318.4,543.4 318.5,544.4 318.6,545.4 318.7,546.4 318.9,547.4 319.0,548.4 319.1,549.4 319.2,550.4 319.3,551.4 319.4,552.4 319.5,553.3 319.7,554.3 319.8,555.3 319.9,556.3 320.0,557.3 320.1,558.3 320.2,559.3 320.4,560.3 320.5,561.3 320.6,562.3 320.7,563.3 320.8,564.3 321.0,565.3 321.1,566.2 321.2,567.2 321.4,568.2 321.5,569.2 321.6,570.2 321.7,571.2 321.9,572.2 322.0,573.2 322.1,574.2 322.3,575.2 322.4,576.1 322.6,577.1 322.7,578.1 322.8,579.1 323.0,580.1 323.1,581.1 323.3,582.1 323.4,583.1 323.6,584.1 323.7,585.0 323.9,586.0 324.0,587.0 324.2,588.0 324.3,589.0 324.5,590.0 324.6,591.0 324.8,592.0 325.0,592.9 325.1,593.9 325.3,594.9 325.5,595.9 325.6,596.9 325.8,597.9 326.0,598.8 326.2,599.8 326.4,600.8 326.6,601.8 326.8,602.8 327.0,603.7 327.2,604.7 327.4,605.7 327.7,606.6 327.9,607.6 328.2,608.6 328.4,609.5 328.7,610.5 329.0,611.5 329.2,612.4 329.5,613.4 329.8,614.3 330.1,615.3 330.5,616.3 330.8,617.2 331.2,618.1 331.5,619.1 331.9,620.0 332.3,620.9 332.7,621.9 333.1,622.8 333.5,623.7 334.0,624.6 334.4,625.4 334.9,626.3 335.4,627.2 336.0,628.0 336.5,628.8 337.1,629.7 337.6,630.5 338.2,631.3 338.9,632.0 339.5,632.8 340.2,633.5 341.0,634.1 341.8,634.7 342.7,635.1 343.6,635.5 344.5,635.8 345.5,636.0 346.4,636.1 347.4,636.1 348.4,636.0 349.3,635.8 350.3,635.5 351.2,635.2 352.1,634.8 353.0,634.3 353.9,633.7 354.7,633.2 355.5,632.6 356.3,631.9 357.1,631.3 357.9,630.7 358.7,630.1 359.5,629.5 360.3,629.0 361.1,628.5 362.0,628.1 363.0,627.7 364.0,627.5 365.0,627.3 366.0,627.1 367.0,627.1 368.0,627.1 369.0,627.2 369.9,627.4 370.8,627.6 371.7,627.9 372.6,628.3 373.5,628.7 374.3,629.1 375.1,629.6 375.9,630.2 376.7,630.8 377.5,631.4 378.2,632.1 378.9,632.8 379.6,633.5 380.3,634.3 381.0,635.1 381.7,635.9 382.4,636.7 383.0,637.5 383.6,638.3 384.3,639.2 384.9,640.0 385.5,640.9 386.1,641.7 386.7,642.5 387.4,643.3 388.1,644.0 388.8,644.6 389.6,645.2 390.4,645.7 391.2,646.1 392.1,646.3 393.0,646.4 393.9,646.3 394.7,646.0 395.5,645.6 396.3,645.0 397.0,644.4 397.7,643.6 398.3,642.8 398.9,642.0 399.4,641.1 400.0,640.2 400.5,639.4 400.9,638.5 401.4,637.6 401.9,636.7 402.3,635.8 402.7,634.9 403.2,634.0 403.6,633.1 403.9,632.1 404.3,631.2 404.7,630.3 405.1,629.4 405.5,628.5 405.8,627.5 406.2,626.6 406.6,625.7 407.0,624.8 407.4,623.8 407.8,622.9 408.2,622.0 408.6,621.1 409.0,620.2 409.4,619.3 409.8,618.3 410.2,617.4 410.6,616.5 411.0,615.6 411.5,614.7 411.9,613.8 412.3,612.9 412.8,612.0 413.2,611.1 413.6,610.2 414.1,609.3 414.5,608.4 415.0,607.5 415.4,606.6 415.9,605.8 416.4,604.9 416.8,604.0 417.3,603.1 417.7,602.2 418.2,601.3 418.7,600.4 419.1,599.5 419.6,598.7 420.1,597.8 420.5,596.9 421.0,596.0 421.5,595.1 422.0,594.3 422.4,593.4 422.9,592.5 423.4,591.6 423.9,590.7 424.3,589.9 424.8,589.0 425.3,588.1 425.8,587.2 426.3,586.4 426.8,585.5 427.2,584.6 427.7,583.8 428.2,582.9 428.7,582.0 429.2,581.1 429.7,580.3 430.2,579.4 430.7,578.6 431.2,577.7 431.7,576.8 432.3,576.0 432.8,575.1 433.3,574.3 433.9,573.5 434.4,572.6 434.9,571.8 435.5,571.0 436.1,570.1 436.6,569.3 437.2,568.5 437.8,567.7 438.4,566.9 439.0,566.1 439.6,565.3 440.3,564.5 440.9,563.7 441.5,563.0 442.2,562.2 442.9,561.5 443.5,560.7 444.2,560.0 444.9,559.3 445.6,558.6 446.4,557.9 447.1,557.3 447.9,556.6 448.6,556.0 449.4,555.3 450.2,554.7 451.0,554.1 451.8,553.5 452.6,553.0 453.4,552.4 454.3,551.9 455.1,551.4 456.0,550.9 456.9,550.4 457.8,549.9 458.7,549.5 459.6,549.0 460.5,548.6 461.4,548.2 462.3,547.8 463.2,547.5 464.2,547.1 465.1,546.8 466.1,546.5 467.0,546.2 468.0,545.9 468.9,545.6 469.9,545.4 470.9,545.2 471.9,545.0 472.8,544.8 473.8,544.6 474.8,544.4 475.8,544.2 476.8,544.0 477.8,543.9 478.7,543.7 479.7,543.5 480.7,543.4 481.7,543.2 482.7,543.0 483.7,542.8 484.7,542.6 485.6,542.5 486.6,542.3 487.6,542.1 488.6,541.9 489.6,541.8 490.6,541.6 491.5,541.4 492.5,541.3 493.5,541.2 494.5,541.1 495.5,541.0 496.5,540.9 497.5,540.8 498.5,540.7 499.5,540.6 500.5,540.6 501.5,540.5 502.5,540.4 503.5,540.4 504.5,540.3 505.5,540.3 506.5,540.3 507.5,540.2 508.5,540.2 509.5,540.2 510.5,540.1 511.5,540.1 512.5,540.0 513.5,540.0 514.5,540.0 515.5,539.9 516.5,539.9 517.5,539.8 518.5,539.8 519.5,539.7 520.5,539.7 521.5,539.6 522.5,539.6 523.5,539.5 524.5,539.4 525.5,539.4 526.5,539.3 527.5,539.3 528.4,539.2 529.4,539.2 530.4,539.1 531.4,539.1 532.4,539.1 533.4,539.0 534.4,539.0 535.4,539.0 536.4,538.9 537.4,538.9 538.4,538.9 539.4,538.9 540.4,538.9 541.4,538.9 542.4,538.9 543.4,538.9 544.4,538.9 545.4,538.9 546.4,538.9 547.4,538.9 548.4,538.9 549.4,539.0 550.4,539.0 551.4,539.0 552.4,539.0 553.4,539.1 554.4,539.1 555.4,539.1 556.4,539.1 557.4,539.2 558.4,539.2 559.4,539.2 560.4,539.3 561.4,539.3 562.4,539.3 563.4,539.4 564.4,539.4 565.4,539.4 566.4,539.5 567.4,539.5 568.4,539.5 569.4,539.5 570.4,539.6 571.4,539.6 572.4,539.6 573.4,539.7 574.4,539.7 575.4,539.7 576.4,539.7 577.4,539.7 578.4,539.8 579.4,539.8 580.4,539.8 581.4,539.8 582.4,539.8 583.4,539.8 584.4,539.8 585.4,539.8 586.4,539.8 587.4,539.8 588.4,539.8 589.4,539.8 590.4,539.8 591.4,539.8 592.4,539.8 593.4,539.7 594.4,539.7 595.4,539.7 596.4,539.6 597.4,539.6 598.4,539.6 599.4,539.5 600.4,539.5 601.4,539.4 602.4,539.3 603.4,539.3 604.3,539.2 605.3,539.1 606.3,539.0 607.3,539.0 608.3,538.9 609.3,538.8 610.3,538.7 611.3,538.5 612.3,538.4 613.3,538.3 614.3,538.2 615.3,538.1 616.3,537.9 617.3,537.8 618.3,537.7 619.2,537.5 620.2,537.4 621.2,537.2 622.2,537.0 623.2,536.9 624.2,536.7 625.2,536.6 626.2,536.4 627.1,536.2 628.1,536.0 629.1,535.8 630.1,535.6 631.1,535.5 632.1,535.3 633.0,535.0 634.0,534.8 635.0,534.6 636.0,534.4 636.9,534.2 637.9,533.9 638.9,533.7 639.8,533.4 640.8,533.2 641.7,532.9 642.7,532.6 643.7,532.3 644.6,532.0 645.6,531.7 646.5,531.4 647.4,531.0 648.4,530.7 649.3,530.3 650.2,530.0 651.2,529.6 652.1,529.2 653.0,528.8 653.9,528.4 654.8,527.9 655.7,527.5 656.6,527.0 657.5,526.6 658.3,526.1 659.2,525.6 660.1,525.1 660.9,524.6 661.8,524.1 662.6,523.5 663.5,523.0 664.3,522.4 665.1,521.9 666.0,521.3 666.8,520.8 667.6,520.2 668.4,519.6 669.3,519.1 670.1,518.5 670.9,517.9 671.7,517.4 672.6,516.8 673.4,516.2 674.2,515.7 675.0,515.1 675.8,514.5 676.7,513.9 677.5,513.4 678.3,512.8 679.1,512.2 679.9,511.6 680.7,511.0 681.5,510.5 682.3,509.9 683.1,509.3 683.9,508.7 684.7,508.1 685.5,507.5 686.3,506.9 687.1,506.3 687.9,505.7 688.7,505.1 689.5,504.4 690.3,503.8 691.1,503.2 691.9,502.6 692.7,502.0 693.4,501.3 694.2,500.7 695.0,500.1 695.8,499.5 696.6,498.8 697.3,498.2 698.1,497.6 698.9,497.0 699.7,496.3 700.4,495.7 701.2,495.1 702.0,494.4 702.8,493.8 703.5,493.2 704.3,492.5 705.1,491.9 705.9,491.3 706.6,490.6 707.4,490.0 708.2,489.4 709.0,488.7 709.7,488.1 710.5,487.5 711.3,486.9 712.1,486.2 712.9,485.6 713.6,485.0 714.4,484.4 715.2,483.7 716.0,483.1 716.8,482.5 717.6,481.9 718.3,481.3 719.1,480.7 719.9,480.1 720.7,479.4 721.5,478.8 722.3,478.2 723.1,477.6 723.9,477.0 724.7,476.4 725.5,475.9 726.3,475.3 727.1,474.7 727.9,474.1 728.7,473.5 729.6,472.9 730.4,472.3 731.2,471.8 732.0,471.2 732.8,470.6 733.6,470.0 734.5,469.5 735.3,468.9 736.1,468.3 736.9,467.7 737.7,467.2 738.6,466.6 739.4,466.1 740.2,465.5 741.0,464.9 741.9,464.4 742.7,463.8 743.5,463.3 744.4,462.7 745.2,462.2 746.0,461.6 746.9,461.1 747.7,460.5 748.5,460.0 749.4,459.4 750.2,458.9 751.1,458.3 751.9,457.8 752.7,457.3 753.6,456.7 754.4,456.2 755.3,455.6 756.1,455.1 757.0,454.6 757.8,454.0 758.6,453.5 759.5,453.0 760.3,452.4 761.2,451.9 762.0,451.4 762.9,450.8 763.7,450.3 764.6,449.8 765.4,449.3 766.3,448.7 767.1,448.2 768.0,447.7 768.8,447.2 769.7,446.6 770.5,446.1 771.4,445.6 772.3,445.1 773.1,444.6 774.0,444.1 774.8,443.5 775.7,443.0 776.5,442.5 777.4,442.0 778.3,441.5 779.1,441.0 780.0,440.5 780.8,440.0 781.7,439.5 782.6,439.0 783.4,438.5 784.3,438.0 785.2,437.4 786.0,436.9 786.9,436.4 787.8,435.9 788.6,435.5 789.5,435.0 790.4,434.5 791.2,434.0 792.1,433.5 793.0,433.0 793.8,432.5 794.7,432.0 795.6,431.5 796.4,431.0 797.3,430.5 798.2,430.0 799.1,429.6 799.9,429.1 800.8,428.6 801.7,428.1 802.6,427.6 803.4,427.1 804.3,426.7 805.2,426.2 806.1,425.7 806.9,425.2 807.8,424.8 808.7,424.3 809.6,423.8 810.5,423.3 811.3,422.9 812.2,422.4 813.1,421.9 814.0,421.5 814.9,421.0 815.8,420.5 816.6,420.1 817.5,419.6 818.4,419.1 819.3,418.7 820.2,418.2 821.1,417.8 822.0,417.3 822.9,416.9 823.8,416.4 824.7,416.0 825.6,415.6 826.5,415.2 827.4,414.8 828.4,414.4 829.3,414.1 830.2,413.7 831.2,413.4 832.1,413.1 833.0,412.8 834.0,412.5 834.9,412.2 835.9,411.9 836.9,411.6 837.8,411.4 838.8,411.1 839.8,410.9 840.7,410.6 841.7,410.3 842.7,410.1 843.6,409.8 844.6,409.6 845.6,409.4 846.5,409.1 847.5,408.9 848.5,408.7 849.5,408.5 850.5,408.2 851.4,408.0 852.4,407.8 853.4,407.6 854.4,407.5 855.4,407.3 856.3,407.1 857.3,406.9 858.3,406.8 859.3,406.6 860.3,406.5 861.3,406.3 862.3,406.2 863.3,406.1 864.3,406.0 865.2,405.9 866.2,405.8 867.2,405.7 868.2,405.6 869.2,405.5 870.2,405.4 871.2,405.3 872.2,405.3 873.2,405.2 874.2,405.1 875.2,405.1 876.2,405.0 877.2,405.0 878.2,404.9 879.2,404.8 880.2,404.8 881.2,404.7 882.2,404.7 883.2,404.7 884.2,404.6 885.2,404.6 886.2,404.5 887.2,404.5 888.2,404.4 889.2,404.4 890.2,404.3 891.2,404.3 892.2,404.3 893.2,404.2 894.2,404.2 895.2,404.2 896.2,404.1 897.2,404.1 898.2,404.1 899.2,404.0 900.2,404.0 901.2,404.0 902.2,404.0 903.2,403.9 904.2,403.9 905.2,403.9 906.2,403.9 907.2,403.8 908.2,403.8 909.2,403.8 910.2,403.8 911.2,403.8 912.2,403.7 913.2,403.7 914.2,403.7 915.2,403.7 916.2,403.7 917.2,403.7 918.2,403.6 919.2,403.6 920.2,403.6 921.2,403.6 922.2,403.6 923.1,403.6 924.1,403.6 925.1,403.6 926.1,403.6 927.1,403.6 928.1,403.5 929.1,403.5 930.1,403.5 931.1,403.5 932.1,403.5 933.1,403.5 934.1,403.5 935.1,403.5 936.1,403.5 937.1,403.5 938.1,403.5 939.1,403.5 940.1,403.5 941.1,403.5 942.1,403.5 943.1,403.5 944.1,403.5 945.1,403.5 946.1,403.5 947.1,403.5 948.1,403.5 949.1,403.5 950.1,403.5 951.1,403.5 952.1,403.5 953.1,403.5 954.1,403.5 955.1,403.5 956.1,403.5 957.1,403.5 958.1,403.5 959.1,403.5 960.1,403.5 961.1,403.6 962.1,403.6 963.1,403.6 964.1,403.6 965.1,403.6 966.1,403.6 967.1,403.6 968.1,403.6 969.1,403.6 970.1,403.6 971.1,403.6 972.1,403.6 973.1,403.6 974.1,403.6 975.1,403.6 976.1,403.6 977.1,403.6 978.1,403.6 979.1,403.6 980.1,403.6 981.1,403.6 982.1,403.6 983.1,403.6 984.1,403.7 985.1,403.7 986.1,403.7 987.1,403.7 988.1,403.7 989.1,403.7 990.1,403.7 991.1,403.7 992.1,403.7 993.1,403.7 994.1,403.7 995.1,403.7 996.1,403.7 997.1,403.7 998.1,403.7 999.1,403.7 1000.1,403.7 1001.1,403.7 1002.1,403.7 1003.1,403.7 1004.1,403.7 1005.1,403.7 1006.1,403.7 1007.1,403.7 1008.1,403.7 1009.1,403.7 1010.1,403.7 1011.1,403.7 1012.1,403.7 1013.1,403.7 1014.1,403.7 1015.1,403.7 1016.1,403.7 1017.1,403.7 1018.1,403.7 1019.1,403.7 1020.1,403.7 1021.1,403.7 1022.1,403.7 1023.1,403.7 1024.1,403.7 1025.1,403.7 1026.1,403.7 1027.1,403.7 1028.1,403.7 1029.1,403.7 1030.1,403.7 1031.1,403.7 1032.1,403.7 1033.1,403.7 1034.1,403.7 1035.1,403.7 1036.1,403.7 1037.1,403.7 1038.1,403.7 1039.1,403.7 1040.1,403.7 1041.1,403.7 1042.1,403.7 1043.1,403.7 1044.1,403.7 1045.1,403.7 1046.1,403.7 1047.1,403.7 1048.1,403.7 1049.1,403.7 1050.1,403.7 1051.1,403.7 1052.1,403.7 1053.1,403.7 1054.1,403.7 1055.1,403.7 1056.1,403.7 1057.1,403.7 1058.1,403.7 1059.1,403.7 1060.1,403.7 1061.1,403.7 1062.1,403.7 1063.1,403.7 1064.1,403.7 1065.1,403.7 1066.1,403.7 1067.1,403.7 1068.1,403.7 1069.1,403.7 1070.1,403.7 1071.1,403.7 1072.1,403.7 1073.1,403.7 1074.1,403.7 1075.1,403.7 1076.1,403.7 1077.1,403.7 1078.1,403.7 1079.1,403.7 1080.1,403.7 1081.1,403.7 1082.1,403.7 1083.1,403.7 1084.1,403.7 1085.1,403.7 1086.1,403.7 1087.1,403.7 1088.1,403.7 1089.1,403.7 1090.1,403.7 1091.1,403.7 1092.1,403.7 1093.1,403.7 1094.1,403.7 1095.1,403.7 1096.1,403.7 1097.1,403.7 1098.1,403.7 1099.1,403.7 1100.1,403.7 1101.1,403.7 1102.1,403.7 1103.1,403.7 1104.1,403.7 1105.1,403.7 1106.1,403.7 1107.1,403.7 1108.1,403.7 1109.1,403.7 1110.1,403.7 1111.1,403.7 1112.1,403.7 1113.1,403.7 1114.1,403.7 1115.1,403.7 1116.1,403.7 1117.1,403.7 1118.1,403.7 1119.1,403.7 1120.1,403.7 1121.1,403.7 1122.1,403.7 1123.1,403.7 1124.1,403.7 1125.1,403.7 1126.1,403.7 1127.1,403.7 1128.1,403.7 1129.1,403.7 1130.1,403.7 1131.1,403.7 1132.1,403.7 1133.1,403.7 1134.1,403.7 1135.1,403.7 1136.1,403.7 1137.1,403.7 1138.1,403.7 1139.1,403.7 1140.1,403.7 1141.1,403.7 1142.1,403.7 1143.1,403.7 1144.1,403.7 1145.1,403.7 1146.1,403.7 1147.1,403.7 1148.1,403.7 1149.1,403.7 1150.1,403.7 1151.1,403.7 1152.1,403.7 1153.1,403.7 1154.1,403.7 1155.0,403.7 1156.0,403.7 1157.0,403.7 1158.0,403.7 1159.0,403.7 1160.0,403.7 1161.0,403.7 1162.0,403.7 1163.0,403.7 1164.0,403.7 1165.0,403.7 1166.0,403.7 1167.0,403.7 1168.0,403.7 1169.0,403.7 1170.0,403.7 1171.0,403.7 1172.0,403.7 1173.0,403.7 1174.0,403.7 1175.0,403.7 1176.0,403.7 1177.0,403.7 1178.0,403.7 1179.0,403.7 1180.0,403.7 1181.0,403.7 1182.0,403.7 1183.0,403.7 1184.0,403.7 1185.0,403.7 1186.0,403.7 1187.0,403.7 1188.0,403.7 1189.0,403.7 1190.0,403.7 1191.0,403.7 1192.0,403.7 1193.0,403.7 1194.0,403.7 1195.0,403.7 1196.0,403.7 1197.0,403.7 1198.0,403.7 1199.0,403.7 1200.0,403.7 1201.0,403.7 1202.0,403.7 1203.0,403.7 1204.0,403.7 1205.0,403.7 1206.0,403.7 1207.0,403.7 1208.0,403.7 1209.0,403.7 1210.0,403.7 1211.0,403.7 1212.0,403.7 1213.0,403.7 1214.0,403.7 1215.0,403.7 1216.0,403.7 1217.0,403.7 1218.0,403.7 1219.0,403.7 1220.0,403.7 1221.0,403.7 1222.0,403.7 1223.0,403.7 1224.0,403.7 1225.0,403.7 1226.0,403.7 1227.0,403.7 1228.0,403.7 1229.0,403.7 1230.0,403.7 1231.0,403.7 1232.0,403.7 1233.0,403.7 1234.0,403.7 1235.0,403.7 1236.0,403.7 1237.0,403.7 1238.0,403.7 1239.0,403.7 1240.0,403.7 1241.0,403.7 1242.0,403.7 1243.0,403.7 1244.0,403.7 1245.0,403.7 1246.0,403.7 1247.0,403.7 1248.0,403.7 1249.0,403.7 1250.0,403.7 1251.0,403.7 1252.0,403.7 1253.0,403.7 1254.0,403.7 1255.0,403.7 1256.0,403.7 1257.0,403.7 1258.0,403.7 1259.0,403.7 1260.0,403.7 1261.0,403.7 1262.0,403.7 1263.0,403.7 1264.0,403.7 1265.0,403.7 1266.0,403.7 1267.0,403.7 1268.0,403.7" stroke="#ff1e10" stroke-width="3.9" fill="none" stroke-linejoin="round"/>
<path d="M298.5,201.5 298.5,202.5 298.5,203.5 298.6,204.5 298.6,205.5 298.6,206.5 298.7,207.5 298.7,208.5 298.7,209.5 298.8,210.5 298.8,211.5 298.8,212.5 298.9,213.5 298.9,214.5 298.9,215.5 299.0,216.5 299.0,217.5 299.0,218.5 299.1,219.5 299.1,220.5 299.2,221.5 299.2,222.5 299.2,223.5 299.3,224.5 299.3,225.5 299.3,226.5 299.4,227.5 299.4,228.5 299.5,229.5 299.5,230.5 299.6,231.5 299.6,232.5 299.6,233.5 299.7,234.5 299.7,235.5 299.8,236.5 299.8,237.5 299.8,238.5 299.9,239.5 299.9,240.5 300.0,241.5 300.0,242.5 300.1,243.5 300.1,244.5 300.2,245.5 300.2,246.5 300.3,247.5 300.3,248.5 300.3,249.5 300.4,250.5 300.4,251.5 300.5,252.5 300.5,253.5 300.6,254.5 300.6,255.5 300.7,256.5 300.7,257.4 300.8,258.4 300.8,259.4 300.9,260.4 300.9,261.4 301.0,262.4 301.0,263.4 301.1,264.4 301.1,265.4 301.2,266.4 301.2,267.4 301.3,268.4 301.3,269.4 301.4,270.4 301.4,271.4 301.5,272.4 301.5,273.4 301.6,274.4 301.6,275.4 301.7,276.4 301.8,277.4 301.8,278.4 301.9,279.4 301.9,280.4 302.0,281.4 302.0,282.4 302.1,283.4 302.1,284.4 302.2,285.4 302.2,286.4 302.3,287.4 302.4,288.4 302.4,289.4 302.5,290.4 302.5,291.4 302.6,292.4 302.6,293.4 302.7,294.4 302.7,295.4 302.8,296.4 302.9,297.4 302.9,298.4 303.0,299.4 303.0,300.4 303.1,301.4 303.2,302.4 303.2,303.4 303.3,304.4 303.3,305.4 303.4,306.4 303.4,307.4 303.5,308.4 303.6,309.4 303.6,310.4 303.7,311.4 303.7,312.4 303.8,313.4 303.9,314.4 303.9,315.4 304.0,316.3 304.0,317.3 304.1,318.3 304.2,319.3 304.2,320.3 304.3,321.3 304.3,322.3 304.4,323.3 304.5,324.3 304.5,325.3 304.6,326.3 304.6,327.3 304.7,328.3 304.8,329.3 304.8,330.3 304.9,331.3 304.9,332.3 305.0,333.3 305.1,334.3 305.1,335.3 305.2,336.3 305.2,337.3 305.3,338.3 305.4,339.3 305.4,340.3 305.5,341.3 305.6,342.3 305.6,343.3 305.7,344.3 305.7,345.3 305.8,346.3 305.9,347.3 305.9,348.3 306.0,349.3 306.0,350.3 306.1,351.3 306.2,352.3 306.2,353.3 306.3,354.3 306.4,355.3 306.4,356.3 306.5,357.3 306.5,358.3 306.6,359.3 306.7,360.3 306.7,361.3 306.8,362.3 306.8,363.3 306.9,364.3 307.0,365.3 307.0,366.3 307.1,367.2 307.1,368.2 307.2,369.2 307.3,370.2 307.3,371.2 307.4,372.2 307.5,373.2 307.5,374.2 307.6,375.2 307.6,376.2 307.7,377.2 307.8,378.2 307.8,379.2 307.9,380.2 307.9,381.2 308.0,382.2 308.1,383.2 308.1,384.2 308.2,385.2 308.2,386.2 308.3,387.2 308.4,388.2 308.4,389.2 308.5,390.2 308.5,391.2 308.6,392.2 308.7,393.2 308.7,394.2 308.8,395.2 308.8,396.2 308.9,397.2 309.0,398.2 309.0,399.2 309.1,400.2 309.1,401.2 309.2,402.2 309.3,403.2 309.3,404.2 309.4,405.2 309.4,406.2 309.5,407.2 309.6,408.2 309.6,409.2 309.7,410.2 309.8,411.2 309.8,412.2 309.9,413.2 309.9,414.2 310.0,415.2 310.1,416.2 310.1,417.2 310.2,418.2 310.3,419.2 310.3,420.2 310.4,421.2 310.5,422.1 310.5,423.1 310.6,424.1 310.7,425.1 310.7,426.1 310.8,427.1 310.9,428.1 311.0,429.1 311.0,430.1 311.1,431.1 311.2,432.1 311.3,433.1 311.3,434.1 311.4,435.1 311.5,436.1 311.6,437.1 311.6,438.1 311.7,439.1 311.8,440.1 311.9,441.1 312.0,442.1 312.0,443.1 312.1,444.1 312.2,445.1 312.3,446.1 312.4,447.1 312.5,448.1 312.6,449.0 312.6,450.0 312.7,451.0 312.8,452.0 312.9,453.0 313.0,454.0 313.1,455.0 313.2,456.0 313.3,457.0 313.4,458.0 313.5,459.0 313.6,460.0 313.7,461.0 313.8,462.0 313.9,463.0 314.0,464.0 314.1,465.0 314.2,466.0 314.3,467.0 314.4,467.9 314.5,468.9 314.6,469.9 314.7,470.9 314.8,471.9 314.9,472.9 315.0,473.9 315.1,474.9 315.2,475.9 315.3,476.9 315.5,477.9 315.6,478.9 315.7,479.9 315.8,480.9 315.9,481.9 316.0,482.9 316.2,483.9 316.3,484.8 316.4,485.8 316.5,486.8 316.6,487.8 316.8,488.8 316.9,489.8 317.0,490.8 317.1,491.8 317.3,492.8 317.4,493.8 317.5,494.8 317.6,495.8 317.8,496.8 317.9,497.8 318.0,498.8 318.2,499.8 318.3,500.7 318.4,501.7 318.5,502.7 318.7,503.7 318.8,504.7 318.9,505.7 319.1,506.7 319.2,507.7 319.3,508.7 319.5,509.7 319.6,510.7 319.7,511.7 319.9,512.7 320.0,513.6 320.1,514.6 320.3,515.6 320.4,516.6 320.5,517.6 320.7,518.6 320.8,519.6 320.9,520.6 321.1,521.6 321.2,522.5 321.3,523.5 321.5,524.5 321.6,525.5 321.7,526.5 321.9,527.5 322.0,528.5 322.1,529.5 322.3,530.4 322.4,531.4 322.6,532.4 322.7,533.4 322.8,534.4 323.0,535.4 323.1,536.4 323.3,537.3 323.4,538.3 323.6,539.3 323.7,540.3 323.9,541.3 324.0,542.3 324.2,543.2 324.4,544.2 324.5,545.2 324.7,546.2 324.9,547.2 325.1,548.2 325.2,549.1 325.4,550.1 325.6,551.1 325.8,552.1 326.0,553.1 326.2,554.1 326.4,555.0 326.6,556.0 326.9,557.0 327.1,558.0 327.3,559.0 327.6,559.9 327.8,560.9 328.0,561.9 328.3,562.9 328.6,563.9 328.8,564.9 329.1,565.8 329.4,566.8 329.7,567.8 330.0,568.8 330.3,569.7 330.6,570.7 331.0,571.6 331.4,572.5 331.8,573.4 332.2,574.3 332.7,575.2 333.2,576.0 333.8,576.8 334.4,577.6 335.0,578.3 335.7,579.0 336.5,579.7 337.2,580.3 338.1,580.8 338.9,581.2 339.8,581.5 340.6,581.7 341.5,581.8 342.4,581.8 343.3,581.6 344.2,581.4 345.1,581.0 346.0,580.6 346.8,580.1 347.6,579.5 348.4,578.9 349.1,578.2 349.8,577.5 350.5,576.7 351.1,575.9 351.7,575.1 352.3,574.3 352.9,573.5 353.4,572.6 354.0,571.7 354.5,570.8 355.0,569.9 355.5,569.1 355.9,568.2 356.4,567.3 356.9,566.4 357.3,565.5 357.7,564.6 358.2,563.7 358.6,562.7 359.0,561.8 359.4,560.9 359.8,560.0 360.2,559.1 360.6,558.2 361.0,557.3 361.4,556.3 361.7,555.4 362.1,554.5 362.5,553.6 362.8,552.6 363.2,551.7 363.6,550.8 363.9,549.9 364.3,548.9 364.6,548.0 365.0,547.1 365.3,546.2 365.7,545.2 366.1,544.3 366.4,543.4 366.8,542.4 367.2,541.5 367.6,540.6 367.9,539.7 368.3,538.7 368.7,537.8 369.1,536.9 369.5,536.0 369.9,535.0 370.3,534.1 370.8,533.2 371.2,532.3 371.7,531.4 372.1,530.5 372.6,529.6 373.1,528.8 373.6,527.9 374.1,527.1 374.7,526.2 375.2,525.4 375.8,524.6 376.4,523.8 377.0,523.1 377.7,522.3 378.4,521.6 379.0,520.8 379.8,520.1 380.5,519.5 381.2,518.8 382.0,518.1 382.8,517.5 383.5,516.8 384.3,516.1 385.0,515.5 385.8,514.8 386.5,514.1 387.2,513.4 387.9,512.7 388.5,511.9 389.2,511.2 389.8,510.4 390.4,509.6 391.0,508.8 391.6,508.0 392.1,507.2 392.7,506.4 393.3,505.5 393.8,504.7 394.3,503.8 394.9,503.0 395.4,502.2 395.9,501.3 396.4,500.5 397.0,499.6 397.5,498.7 398.0,497.9 398.5,497.0 399.0,496.1 399.5,495.3 400.0,494.4 400.5,493.5 401.0,492.7 401.5,491.8 401.9,490.9 402.4,490.0 402.9,489.2 403.4,488.3 403.9,487.4 404.4,486.6 404.9,485.7 405.4,484.8 405.9,483.9 406.4,483.1 406.9,482.2 407.4,481.4 407.9,480.5 408.4,479.6 408.9,478.8 409.5,477.9 410.0,477.1 410.5,476.2 411.1,475.4 411.6,474.6 412.1,473.7 412.7,472.9 413.3,472.1 413.8,471.2 414.4,470.4 415.0,469.6 415.6,468.8 416.2,468.0 416.8,467.2 417.4,466.4 418.0,465.6 418.6,464.8 419.2,464.0 419.8,463.2 420.4,462.4 421.0,461.7 421.6,460.9 422.3,460.1 422.9,459.3 423.5,458.5 424.1,457.8 424.8,457.0 425.4,456.2 426.0,455.4 426.7,454.6 427.3,453.8 427.9,453.1 428.6,452.3 429.2,451.5 429.8,450.7 430.5,450.0 431.1,449.2 431.8,448.4 432.4,447.7 433.1,446.9 433.7,446.2 434.4,445.4 435.1,444.7 435.8,444.0 436.5,443.2 437.2,442.5 437.9,441.8 438.6,441.1 439.3,440.4 440.0,439.7 440.7,439.1 441.5,438.4 442.2,437.8 443.0,437.1 443.8,436.5 444.5,435.8 445.3,435.2 446.1,434.6 446.9,434.0 447.7,433.4 448.5,432.8 449.3,432.2 450.1,431.6 450.9,431.0 451.7,430.4 452.5,429.8 453.3,429.2 454.1,428.7 455.0,428.1 455.8,427.5 456.6,427.0 457.4,426.4 458.3,425.8 459.1,425.3 459.9,424.7 460.8,424.2 461.6,423.6 462.5,423.1 463.3,422.5 464.2,422.0 465.0,421.5 465.9,420.9 466.7,420.4 467.6,419.9 468.4,419.4 469.3,418.9 470.2,418.5 471.1,418.0 472.0,417.5 472.8,417.1 473.7,416.6 474.6,416.2 475.5,415.8 476.4,415.4 477.4,414.9 478.3,414.5 479.2,414.2 480.1,413.8 481.0,413.4 482.0,413.0 482.9,412.7 483.8,412.3 484.8,412.0 485.7,411.7 486.7,411.4 487.6,411.0 488.6,410.7 489.5,410.4 490.5,410.1 491.4,409.9 492.4,409.6 493.3,409.3 494.3,409.0 495.3,408.8 496.2,408.5 497.2,408.3 498.2,408.0 499.2,407.8 500.1,407.6 501.1,407.3 502.1,407.1 503.1,406.9 504.1,406.7 505.0,406.5 506.0,406.3 507.0,406.1 508.0,405.9 509.0,405.8 509.9,405.6 510.9,405.4 511.9,405.2 512.9,405.1 513.9,404.9 514.9,404.8 515.9,404.6 516.9,404.5 517.8,404.3 518.8,404.2 519.8,404.0 520.8,403.9 521.8,403.8 522.8,403.6 523.8,403.5 524.8,403.4 525.8,403.3 526.8,403.1 527.7,403.0 528.7,402.9 529.7,402.8 530.7,402.7 531.7,402.6 532.7,402.5 533.7,402.4 534.7,402.3 535.7,402.1 536.7,402.0 537.7,401.9 538.7,401.8 539.7,401.7 540.7,401.6 541.7,401.5 542.7,401.4 543.7,401.3 544.6,401.2 545.6,401.1 546.6,401.0 547.6,401.0 548.6,400.9 549.6,400.8 550.6,400.7 551.6,400.6 552.6,400.5 553.6,400.4 554.6,400.3 555.6,400.2 556.6,400.2 557.6,400.1 558.6,400.0 559.6,399.9 560.6,399.9 561.6,399.8 562.6,399.7 563.6,399.6 564.6,399.6 565.6,399.5 566.6,399.5 567.6,399.4 568.6,399.4 569.6,399.3 570.6,399.3 571.6,399.2 572.6,399.2 573.6,399.1 574.6,399.1 575.6,399.1 576.6,399.0 577.6,399.0 578.6,399.0 579.6,398.9 580.6,398.9 581.6,398.9 582.6,398.9 583.6,398.8 584.6,398.8 585.6,398.8 586.6,398.8 587.6,398.7 588.6,398.7 589.6,398.7 590.6,398.7 591.6,398.6 592.6,398.6 593.6,398.6 594.6,398.5 595.6,398.5 596.6,398.5 597.6,398.5 598.6,398.4 599.6,398.4 600.6,398.4 601.6,398.4 602.6,398.3 603.6,398.3 604.5,398.3 605.5,398.2 606.5,398.2 607.5,398.2 608.5,398.1 609.5,398.1 610.5,398.1 611.5,398.1 612.5,398.0 613.5,398.0 614.5,398.0 615.5,398.0 616.5,397.9 617.5,397.9 618.5,397.9 619.5,397.8 620.5,397.8 621.5,397.8 622.5,397.8 623.5,397.7 624.5,397.7 625.5,397.7 626.5,397.7 627.5,397.6 628.5,397.6 629.5,397.6 630.5,397.6 631.5,397.6 632.5,397.5 633.5,397.5 634.5,397.5 635.5,397.5 636.5,397.5 637.5,397.5 638.5,397.4 639.5,397.4 640.5,397.4 641.5,397.4 642.5,397.4 643.5,397.4 644.5,397.4 645.5,397.4 646.5,397.3 647.5,397.3 648.5,397.3 649.5,397.3 650.5,397.3 651.5,397.3 652.5,397.3 653.5,397.3 654.5,397.3 655.5,397.3 656.5,397.3 657.5,397.3 658.5,397.3 659.5,397.3 660.5,397.3 661.5,397.3 662.5,397.3 663.5,397.3 664.5,397.3 665.5,397.3 666.5,397.3 667.5,397.3 668.5,397.3 669.5,397.3 670.5,397.3 671.5,397.3 672.5,397.3 673.5,397.3 674.5,397.3 675.5,397.3 676.5,397.3 677.5,397.3 678.5,397.3 679.5,397.3 680.5,397.3 681.5,397.4 682.5,397.4 683.5,397.4 684.5,397.4 685.5,397.4 686.5,397.4 687.5,397.4 688.5,397.4 689.5,397.4 690.5,397.4 691.5,397.4 692.5,397.5 693.5,397.5 694.5,397.5 695.5,397.5 696.5,397.5 697.5,397.5 698.5,397.5 699.5,397.5 700.5,397.5 701.5,397.6 702.5,397.6 703.5,397.6 704.5,397.6 705.5,397.6 706.5,397.6 707.5,397.6 708.5,397.6 709.5,397.6 710.5,397.7 711.5,397.7 712.5,397.7 713.5,397.7 714.5,397.7 715.5,397.7 716.5,397.7 717.5,397.7 718.5,397.8 719.5,397.8 720.5,397.8 721.5,397.8 722.5,397.8 723.5,397.8 724.5,397.8 725.5,397.8 726.5,397.9 727.5,397.9 728.5,397.9 729.5,397.9 730.5,397.9 731.5,397.9 732.5,397.9 733.5,397.9 734.5,397.9 735.5,397.9 736.5,398.0 737.5,398.0 738.5,398.0 739.5,398.0 740.5,398.0 741.5,398.0 742.5,398.0 743.5,398.0 744.5,398.1 745.5,398.1 746.5,398.1 747.5,398.1 748.5,398.1 749.5,398.1 750.5,398.1 751.5,398.1 752.5,398.2 753.5,398.2 754.5,398.2 755.5,398.2 756.5,398.2 757.5,398.2 758.5,398.2 759.5,398.3 760.5,398.3 761.5,398.3 762.5,398.3 763.5,398.3 764.5,398.3 765.5,398.4 766.5,398.4 767.5,398.4 768.5,398.4 769.5,398.4 770.5,398.5 771.5,398.5 772.5,398.5 773.5,398.5 774.5,398.5 775.5,398.6 776.5,398.6 777.5,398.6 778.5,398.6 779.5,398.6 780.5,398.7 781.5,398.7 782.5,398.7 783.5,398.7 784.5,398.7 785.5,398.7 786.5,398.8 787.5,398.8 788.5,398.8 789.5,398.8 790.5,398.8 791.5,398.8 792.5,398.8 793.5,398.8 794.5,398.8 795.5,398.8 796.5,398.8 797.5,398.8 798.5,398.8 799.5,398.7 800.5,398.7 801.5,398.7 802.5,398.7 803.5,398.6 804.5,398.6 805.5,398.6 806.5,398.5 807.5,398.5 808.5,398.4 809.5,398.4 810.5,398.3 811.5,398.3 812.5,398.2 813.5,398.1 814.5,398.0 815.5,398.0 816.5,397.9 817.5,397.8 818.4,397.7 819.4,397.6 820.4,397.5 821.4,397.4 822.4,397.3 823.4,397.2 824.4,397.0 825.4,396.9 826.4,396.8 827.4,396.7 828.4,396.6 829.4,396.4 830.4,396.3 831.4,396.2 832.3,396.0 833.3,395.9 834.3,395.8 835.3,395.6 836.3,395.5 837.3,395.3 838.3,395.2 839.3,395.1 840.3,394.9 841.3,394.8 842.3,394.6 843.3,394.5 844.2,394.4 845.2,394.2 846.2,394.1 847.2,394.0 848.2,393.8 849.2,393.7 850.2,393.6 851.2,393.5 852.2,393.3 853.2,393.2 854.2,393.1 855.2,393.0 856.2,392.9 857.2,392.8 858.1,392.7 859.1,392.6 860.1,392.5 861.1,392.4 862.1,392.3 863.1,392.2 864.1,392.1 865.1,392.0 866.1,391.9 867.1,391.8 868.1,391.7 869.1,391.7 870.1,391.6 871.1,391.5 872.1,391.4 873.1,391.4 874.1,391.3 875.1,391.2 876.1,391.2 877.1,391.1 878.1,391.1 879.1,391.0 880.1,390.9 881.1,390.9 882.1,390.8 883.1,390.8 884.1,390.7 885.1,390.7 886.1,390.6 887.1,390.6 888.1,390.6 889.1,390.5 890.1,390.5 891.1,390.4 892.0,390.4 893.0,390.3 894.0,390.3 895.0,390.3 896.0,390.2 897.0,390.2 898.0,390.2 899.0,390.1 900.0,390.1 901.0,390.1 902.0,390.1 903.0,390.0 904.0,390.0 905.0,390.0 906.0,389.9 907.0,389.9 908.0,389.9 909.0,389.9 910.0,389.8 911.0,389.8 912.0,389.8 913.0,389.8 914.0,389.8 915.0,389.7 916.0,389.7 917.0,389.7 918.0,389.7 919.0,389.7 920.0,389.7 921.0,389.6 922.0,389.6 923.0,389.6 924.0,389.6 925.0,389.6 926.0,389.6 927.0,389.6 928.0,389.6 929.0,389.5 930.0,389.5 931.0,389.5 932.0,389.5 933.0,389.5 934.0,389.5 935.0,389.5 936.0,389.5 937.0,389.5 938.0,389.5 939.0,389.5 940.0,389.5 941.0,389.5 942.0,389.5 943.0,389.5 944.0,389.5 945.0,389.5 946.0,389.4 947.0,389.4 948.0,389.4 949.0,389.4 950.0,389.4 951.0,389.4 952.0,389.4 953.0,389.4 954.0,389.4 955.0,389.4 956.0,389.4 957.0,389.4 958.0,389.4 959.0,389.4 960.0,389.4 961.0,389.5 962.0,389.5 963.0,389.5 964.0,389.5 965.0,389.5 966.0,389.5 967.0,389.5 968.0,389.5 969.0,389.5 970.0,389.5 971.0,389.5 972.0,389.5 973.0,389.5 974.0,389.5 975.0,389.5 976.0,389.5 977.0,389.5 978.0,389.5 979.0,389.5 980.0,389.5 981.0,389.5 982.0,389.5 983.0,389.5 984.0,389.5 985.0,389.5 986.0,389.5 987.0,389.5 988.0,389.5 989.0,389.5 990.0,389.5 991.0,389.5 992.0,389.5 993.0,389.5 994.0,389.5 995.0,389.5 996.0,389.5 997.0,389.6 998.0,389.6 999.0,389.6 1000.0,389.6 1001.0,389.6 1002.0,389.6 1003.0,389.6 1004.0,389.6 1005.0,389.6 1006.0,389.6 1007.0,389.6 1008.0,389.6 1009.0,389.6 1010.0,389.6 1011.0,389.6 1012.0,389.6 1013.0,389.6 1014.0,389.6 1015.0,389.6 1016.0,389.6 1017.0,389.6 1018.0,389.6 1019.0,389.6 1020.0,389.6 1021.0,389.6 1022.0,389.6 1023.0,389.6 1024.0,389.6 1025.0,389.6 1026.0,389.6 1027.0,389.6 1028.0,389.5 1029.0,389.5 1030.0,389.5 1031.0,389.5 1032.0,389.5 1033.0,389.5 1034.0,389.5 1035.0,389.5 1036.0,389.5 1037.0,389.5 1038.0,389.5 1039.0,389.5 1040.0,389.5 1041.0,389.5 1042.0,389.5 1043.0,389.5 1044.0,389.5 1045.0,389.5 1046.0,389.5 1047.0,389.5 1048.0,389.5 1049.0,389.5 1050.0,389.5 1051.0,389.5 1052.0,389.5 1053.0,389.5 1054.0,389.5 1055.0,389.5 1056.0,389.5 1057.0,389.5 1058.0,389.5 1059.0,389.5 1060.0,389.5 1061.0,389.5 1062.0,389.5 1063.0,389.5 1064.0,389.5 1065.0,389.5 1066.0,389.5 1067.0,389.5 1068.0,389.5 1069.0,389.5 1070.0,389.5 1071.0,389.5 1072.0,389.5 1073.0,389.5 1074.0,389.5 1075.0,389.5 1076.0,389.5 1077.0,389.5 1078.0,389.5 1079.0,389.5 1080.0,389.5 1081.0,389.4 1082.0,389.4 1083.0,389.4 1084.0,389.4 1085.0,389.4 1086.0,389.4 1087.0,389.4 1088.0,389.4 1089.0,389.4 1090.0,389.4 1091.0,389.4 1092.0,389.4 1093.0,389.4 1094.0,389.4 1095.0,389.4 1096.0,389.4 1097.0,389.4 1098.0,389.4 1099.0,389.4 1100.0,389.4 1101.0,389.4 1102.0,389.4 1103.0,389.4 1104.0,389.4 1105.0,389.4 1106.0,389.4 1107.0,389.4 1108.0,389.4 1109.0,389.4 1110.0,389.4 1111.0,389.4 1112.0,389.4 1113.0,389.4 1114.0,389.4 1115.0,389.4 1116.0,389.4 1117.0,389.4 1118.0,389.4 1119.0,389.4 1120.0,389.4 1121.0,389.4 1122.0,389.4 1123.0,389.4 1124.0,389.4 1125.0,389.4 1126.0,389.4 1127.0,389.4 1128.0,389.4 1129.0,389.4 1130.0,389.4 1131.0,389.4 1132.0,389.4 1133.0,389.4 1134.0,389.4 1135.0,389.4 1136.0,389.4 1137.0,389.4 1138.0,389.4 1139.0,389.4 1140.0,389.4 1141.0,389.4 1142.0,389.4 1143.0,389.4 1144.0,389.4 1145.0,389.4 1146.0,389.4 1147.0,389.4 1148.0,389.4 1149.0,389.4 1150.0,389.4 1151.0,389.4 1152.0,389.4 1153.0,389.4 1154.0,389.4 1155.0,389.4 1156.0,389.4 1157.0,389.4 1158.0,389.4 1159.0,389.4 1160.0,389.4 1161.0,389.4 1162.0,389.4 1163.0,389.4 1164.0,389.4 1165.0,389.4 1166.0,389.4 1167.0,389.4 1168.0,389.4 1169.0,389.4 1170.0,389.4 1171.0,389.4 1172.0,389.4 1173.0,389.4 1174.0,389.4 1175.0,389.4 1176.0,389.4 1177.0,389.4 1178.0,389.4 1179.0,389.4 1180.0,389.4 1181.0,389.4 1182.0,389.4 1183.0,389.4 1184.0,389.4 1185.0,389.4 1186.0,389.4 1187.0,389.4 1188.0,389.4 1189.0,389.4 1190.0,389.4 1191.0,389.4 1192.0,389.4 1193.0,389.4 1194.0,389.4 1195.0,389.4 1196.0,389.4 1197.0,389.4 1198.0,389.4 1199.0,389.4 1200.0,389.4 1201.0,389.4 1202.0,389.4 1203.0,389.4 1204.0,389.4 1205.0,389.4 1206.0,389.4 1207.0,389.4 1208.0,389.4 1209.0,389.4 1210.0,389.4 1211.0,389.4 1212.0,389.4 1213.0,389.4 1214.0,389.4 1215.0,389.4 1216.0,389.4 1217.0,389.4 1218.0,389.4 1219.0,389.4 1220.0,389.4 1221.0,389.4 1222.0,389.4 1223.0,389.4 1224.0,389.4 1225.0,389.4 1226.0,389.4 1227.0,389.4 1228.0,389.4 1229.0,389.4 1230.0,389.4 1231.0,389.4 1232.0,389.4 1233.0,389.4 1234.0,389.4 1235.0,389.4 1236.0,389.4 1237.0,389.4 1238.0,389.4 1239.0,389.4 1240.0,389.4 1241.0,389.4 1242.0,389.4 1243.0,389.4 1244.0,389.4 1245.0,389.4 1246.0,389.4 1247.0,389.4 1248.0,389.4 1249.0,389.4 1250.0,389.4 1251.0,389.4 1252.0,389.4 1253.0,389.4 1254.0,389.4 1255.0,389.4 1256.0,389.4 1257.0,389.4 1258.0,389.4 1259.0,389.4 1260.0,389.4 1261.0,389.4 1262.0,389.4 1263.0,389.4 1264.0,389.4 1265.0,389.4 1266.0,389.4 1267.0,389.4 1268.0,389.4" stroke="#ffba00" stroke-width="3.9" fill="none" stroke-linejoin="round"/>
<path d="M298.5,113.0 298.6,114.0 298.6,115.0 298.7,116.0 298.7,117.0 298.8,118.0 298.8,119.0 298.9,120.0 298.9,121.0 299.0,122.0 299.0,123.0 299.1,124.0 299.1,125.0 299.1,126.0 299.2,127.0 299.2,128.0 299.3,129.0 299.3,130.0 299.4,131.0 299.4,132.0 299.5,133.0 299.5,134.0 299.6,135.0 299.6,136.0 299.7,137.0 299.7,138.0 299.8,139.0 299.8,140.0 299.9,141.0 299.9,142.0 299.9,143.0 300.0,143.9 300.0,144.9 300.1,145.9 300.1,146.9 300.2,147.9 300.2,148.9 300.3,149.9 300.3,150.9 300.4,151.9 300.4,152.9 300.5,153.9 300.5,154.9 300.6,155.9 300.6,156.9 300.6,157.9 300.7,158.9 300.7,159.9 300.8,160.9 300.8,161.9 300.9,162.9 300.9,163.9 301.0,164.9 301.0,165.9 301.1,166.9 301.1,167.9 301.2,168.9 301.2,169.9 301.3,170.9 301.3,171.9 301.4,172.9 301.4,173.9 301.4,174.9 301.5,175.9 301.5,176.9 301.6,177.9 301.6,178.9 301.7,179.9 301.7,180.9 301.8,181.9 301.8,182.9 301.9,183.9 301.9,184.9 302.0,185.9 302.0,186.9 302.1,187.9 302.1,188.9 302.2,189.9 302.2,190.9 302.3,191.9 302.3,192.9 302.4,193.9 302.4,194.9 302.5,195.9 302.5,196.9 302.5,197.9 302.6,198.9 302.6,199.9 302.7,200.9 302.7,201.9 302.8,202.9 302.8,203.9 302.9,204.9 302.9,205.8 303.0,206.8 303.0,207.8 303.1,208.8 303.1,209.8 303.2,210.8 303.2,211.8 303.3,212.8 303.3,213.8 303.4,214.8 303.4,215.8 303.5,216.8 303.5,217.8 303.6,218.8 303.6,219.8 303.7,220.8 303.7,221.8 303.8,222.8 303.8,223.8 303.9,224.8 303.9,225.8 304.0,226.8 304.0,227.8 304.1,228.8 304.1,229.8 304.2,230.8 304.2,231.8 304.3,232.8 304.3,233.8 304.4,234.8 304.4,235.8 304.5,236.8 304.5,237.8 304.6,238.8 304.6,239.8 304.7,240.8 304.7,241.8 304.8,242.8 304.8,243.8 304.9,244.8 305.0,245.8 305.0,246.8 305.1,247.8 305.1,248.8 305.2,249.8 305.2,250.8 305.3,251.8 305.3,252.8 305.4,253.8 305.4,254.8 305.5,255.8 305.5,256.8 305.6,257.8 305.6,258.8 305.7,259.8 305.7,260.7 305.8,261.7 305.9,262.7 305.9,263.7 306.0,264.7 306.0,265.7 306.1,266.7 306.1,267.7 306.2,268.7 306.2,269.7 306.3,270.7 306.3,271.7 306.4,272.7 306.5,273.7 306.5,274.7 306.6,275.7 306.6,276.7 306.7,277.7 306.7,278.7 306.8,279.7 306.9,280.7 306.9,281.7 307.0,282.7 307.0,283.7 307.1,284.7 307.1,285.7 307.2,286.7 307.3,287.7 307.3,288.7 307.4,289.7 307.4,290.7 307.5,291.7 307.5,292.7 307.6,293.7 307.7,294.7 307.7,295.7 307.8,296.7 307.8,297.7 307.9,298.7 308.0,299.7 308.0,300.7 308.1,301.7 308.1,302.7 308.2,303.7 308.3,304.7 308.3,305.7 308.4,306.7 308.4,307.6 308.5,308.6 308.6,309.6 308.6,310.6 308.7,311.6 308.7,312.6 308.8,313.6 308.9,314.6 308.9,315.6 309.0,316.6 309.1,317.6 309.1,318.6 309.2,319.6 309.2,320.6 309.3,321.6 309.4,322.6 309.4,323.6 309.5,324.6 309.6,325.6 309.6,326.6 309.7,327.6 309.8,328.6 309.8,329.6 309.9,330.6 310.0,331.6 310.0,332.6 310.1,333.6 310.1,334.6 310.2,335.6 310.3,336.6 310.4,337.6 310.4,338.6 310.5,339.6 310.6,340.6 310.6,341.6 310.7,342.6 310.8,343.6 310.8,344.6 310.9,345.6 311.0,346.5 311.1,347.5 311.1,348.5 311.2,349.5 311.3,350.5 311.3,351.5 311.4,352.5 311.5,353.5 311.6,354.5 311.7,355.5 311.7,356.5 311.8,357.5 311.9,358.5 312.0,359.5 312.0,360.5 312.1,361.5 312.2,362.5 312.3,363.5 312.4,364.5 312.5,365.5 312.5,366.5 312.6,367.5 312.7,368.5 312.8,369.5 312.9,370.5 313.0,371.5 313.1,372.5 313.2,373.4 313.2,374.4 313.3,375.4 313.4,376.4 313.5,377.4 313.6,378.4 313.7,379.4 313.8,380.4 313.9,381.4 314.0,382.4 314.1,383.4 314.2,384.4 314.3,385.4 314.4,386.4 314.5,387.4 314.6,388.4 314.7,389.4 314.8,390.4 314.9,391.3 315.0,392.3 315.1,393.3 315.3,394.3 315.4,395.3 315.5,396.3 315.6,397.3 315.7,398.3 315.8,399.3 315.9,400.3 316.0,401.3 316.1,402.3 316.2,403.3 316.4,404.3 316.5,405.3 316.6,406.2 316.7,407.2 316.8,408.2 316.9,409.2 317.0,410.2 317.1,411.2 317.3,412.2 317.4,413.2 317.5,414.2 317.6,415.2 317.7,416.2 317.8,417.2 317.9,418.2 318.1,419.2 318.2,420.1 318.3,421.1 318.4,422.1 318.5,423.1 318.6,424.1 318.7,425.1 318.9,426.1 319.0,427.1 319.1,428.1 319.2,429.1 319.3,430.1 319.4,431.1 319.5,432.1 319.7,433.1 319.8,434.0 319.9,435.0 320.0,436.0 320.1,437.0 320.2,438.0 320.4,439.0 320.5,440.0 320.6,441.0 320.7,442.0 320.8,443.0 321.0,444.0 321.1,445.0 321.2,446.0 321.3,446.9 321.5,447.9 321.6,448.9 321.7,449.9 321.8,450.9 322.0,451.9 322.1,452.9 322.2,453.9 322.4,454.9 322.5,455.9 322.6,456.9 322.8,457.8 322.9,458.8 323.0,459.8 323.2,460.8 323.3,461.8 323.5,462.8 323.6,463.8 323.8,464.8 323.9,465.8 324.1,466.7 324.2,467.7 324.4,468.7 324.5,469.7 324.7,470.7 324.8,471.7 325.0,472.7 325.2,473.7 325.3,474.6 325.5,475.6 325.7,476.6 325.8,477.6 326.0,478.6 326.2,479.6 326.4,480.6 326.6,481.5 326.8,482.5 327.0,483.5 327.2,484.5 327.4,485.5 327.6,486.4 327.8,487.4 328.0,488.4 328.2,489.4 328.5,490.3 328.7,491.3 329.0,492.3 329.2,493.2 329.5,494.2 329.8,495.1 330.1,496.1 330.4,497.0 330.7,498.0 331.0,498.9 331.3,499.9 331.7,500.8 332.0,501.7 332.4,502.6 332.8,503.6 333.2,504.5 333.6,505.4 334.1,506.3 334.5,507.2 335.0,508.1 335.5,508.9 336.1,509.8 336.6,510.6 337.2,511.5 337.9,512.3 338.5,513.0 339.2,513.7 340.0,514.4 340.8,514.9 341.6,515.4 342.5,515.7 343.4,516.0 344.4,516.1 345.3,516.1 346.3,515.9 347.2,515.6 348.1,515.2 348.9,514.7 349.7,514.1 350.5,513.5 351.3,512.8 352.0,512.1 352.7,511.3 353.4,510.6 354.0,509.8 354.7,509.0 355.3,508.3 355.9,507.5 356.6,506.7 357.2,506.0 357.9,505.2 358.5,504.5 359.2,503.8 359.9,503.1 360.7,502.4 361.4,501.8 362.2,501.2 363.0,500.7 363.9,500.2 364.8,499.8 365.7,499.4 366.7,499.1 367.7,498.8 368.7,498.6 369.7,498.4 370.7,498.1 371.6,497.8 372.6,497.5 373.4,497.1 374.2,496.6 375.0,496.0 375.7,495.3 376.3,494.6 376.9,493.8 377.5,492.9 378.0,492.1 378.5,491.2 379.0,490.3 379.4,489.3 379.8,488.4 380.2,487.5 380.5,486.6 380.9,485.6 381.2,484.7 381.5,483.7 381.9,482.8 382.2,481.8 382.5,480.9 382.8,480.0 383.1,479.0 383.4,478.1 383.8,477.1 384.1,476.2 384.4,475.2 384.8,474.3 385.1,473.4 385.4,472.4 385.8,471.5 386.1,470.5 386.4,469.6 386.8,468.7 387.1,467.7 387.5,466.8 387.8,465.8 388.1,464.9 388.5,464.0 388.8,463.0 389.2,462.1 389.5,461.1 389.8,460.2 390.2,459.3 390.5,458.3 390.9,457.4 391.2,456.4 391.5,455.5 391.9,454.5 392.2,453.6 392.5,452.7 392.9,451.7 393.2,450.8 393.5,449.8 393.9,448.9 394.2,447.9 394.5,447.0 394.8,446.1 395.2,445.1 395.5,444.2 395.8,443.2 396.2,442.3 396.5,441.3 396.8,440.4 397.2,439.5 397.5,438.5 397.8,437.6 398.2,436.6 398.5,435.7 398.8,434.7 399.2,433.8 399.5,432.9 399.8,431.9 400.2,431.0 400.5,430.0 400.8,429.1 401.2,428.2 401.5,427.2 401.9,426.3 402.2,425.3 402.5,424.4 402.9,423.5 403.2,422.5 403.6,421.6 403.9,420.6 404.3,419.7 404.6,418.8 405.0,417.8 405.3,416.9 405.7,416.0 406.0,415.0 406.4,414.1 406.7,413.2 407.1,412.2 407.5,411.3 407.8,410.4 408.2,409.4 408.6,408.5 408.9,407.6 409.3,406.6 409.7,405.7 410.0,404.8 410.4,403.9 410.8,402.9 411.1,402.0 411.5,401.1 411.9,400.1 412.2,399.2 412.6,398.3 413.0,397.4 413.3,396.4 413.7,395.5 414.1,394.6 414.5,393.6 414.8,392.7 415.2,391.8 415.6,390.9 415.9,389.9 416.3,389.0 416.7,388.1 417.0,387.1 417.4,386.2 417.8,385.3 418.1,384.4 418.5,383.4 418.9,382.5 419.2,381.6 419.6,380.6 419.9,379.7 420.3,378.8 420.7,377.8 421.0,376.9 421.4,376.0 421.7,375.0 422.1,374.1 422.4,373.1 422.8,372.2 423.1,371.3 423.5,370.3 423.8,369.4 424.1,368.5 424.5,367.5 424.8,366.6 425.1,365.6 425.5,364.7 425.8,363.7 426.1,362.8 426.5,361.9 426.8,360.9 427.1,360.0 427.5,359.0 427.8,358.1 428.1,357.1 428.5,356.2 428.8,355.3 429.1,354.3 429.5,353.4 429.8,352.4 430.2,351.5 430.5,350.6 430.9,349.6 431.2,348.7 431.6,347.8 432.0,346.8 432.3,345.9 432.7,345.0 433.1,344.1 433.4,343.1 433.8,342.2 434.2,341.3 434.6,340.4 435.0,339.5 435.4,338.6 435.8,337.6 436.2,336.7 436.6,335.8 437.0,334.9 437.5,334.0 437.9,333.1 438.3,332.2 438.7,331.3 439.2,330.4 439.6,329.5 440.0,328.6 440.5,327.7 440.9,326.8 441.4,325.9 441.8,325.0 442.2,324.1 442.7,323.2 443.2,322.3 443.6,321.4 444.1,320.5 444.5,319.6 445.0,318.7 445.4,317.9 445.9,317.0 446.4,316.1 446.9,315.2 447.3,314.3 447.8,313.5 448.3,312.6 448.8,311.7 449.3,310.8 449.8,310.0 450.3,309.1 450.8,308.3 451.3,307.4 451.9,306.6 452.4,305.7 452.9,304.9 453.5,304.1 454.0,303.2 454.6,302.4 455.2,301.6 455.8,300.8 456.4,300.0 456.9,299.2 457.6,298.4 458.2,297.6 458.8,296.8 459.4,296.1 460.0,295.3 460.7,294.5 461.3,293.8 462.0,293.0 462.7,292.3 463.3,291.5 464.0,290.8 464.7,290.1 465.3,289.3 466.0,288.6 466.7,287.9 467.4,287.1 468.1,286.4 468.8,285.7 469.5,285.0 470.2,284.3 470.9,283.5 471.7,282.8 472.4,282.1 473.1,281.4 473.8,280.7 474.6,280.1 475.3,279.4 476.1,278.7 476.8,278.1 477.6,277.4 478.4,276.8 479.2,276.2 479.9,275.6 480.7,275.0 481.6,274.4 482.4,273.9 483.2,273.4 484.0,272.9 484.9,272.4 485.8,271.9 486.6,271.5 487.5,271.1 488.4,270.7 489.4,270.3 490.3,270.0 491.2,269.7 492.2,269.4 493.2,269.2 494.1,268.9 495.1,268.7 496.1,268.6 497.1,268.4 498.1,268.3 499.1,268.2 500.1,268.2 501.2,268.2 502.2,268.2 503.2,268.2 504.2,268.3 505.2,268.4 506.2,268.5 507.1,268.6 508.1,268.8 509.1,269.0 510.0,269.2 511.0,269.5 511.9,269.8 512.9,270.1 513.8,270.4 514.7,270.8 515.6,271.1 516.5,271.5 517.5,271.9 518.3,272.4 519.2,272.8 520.1,273.3 521.0,273.7 521.9,274.2 522.7,274.7 523.6,275.2 524.5,275.7 525.3,276.3 526.2,276.8 527.0,277.3 527.9,277.9 528.7,278.4 529.5,279.0 530.4,279.5 531.2,280.1 532.0,280.6 532.9,281.2 533.7,281.8 534.5,282.4 535.3,282.9 536.1,283.5 537.0,284.1 537.8,284.7 538.6,285.3 539.4,285.9 540.2,286.5 541.0,287.1 541.8,287.7 542.6,288.3 543.4,288.9 544.2,289.5 544.9,290.1 545.7,290.7 546.5,291.3 547.3,291.9 548.1,292.6 548.9,293.2 549.6,293.8 550.4,294.5 551.2,295.1 552.0,295.7 552.7,296.4 553.5,297.0 554.3,297.6 555.0,298.3 555.8,298.9 556.5,299.6 557.3,300.2 558.1,300.9 558.8,301.5 559.6,302.2 560.4,302.8 561.1,303.5 561.9,304.1 562.6,304.8 563.4,305.4 564.1,306.1 564.9,306.7 565.7,307.4 566.4,308.0 567.2,308.7 567.9,309.3 568.7,310.0 569.4,310.6 570.2,311.3 571.0,311.9 571.7,312.6 572.5,313.2 573.2,313.9 574.0,314.5 574.8,315.2 575.5,315.8 576.3,316.5 577.0,317.1 577.8,317.7 578.6,318.4 579.4,319.0 580.1,319.7 580.9,320.3 581.7,320.9 582.4,321.6 583.2,322.2 584.0,322.8 584.8,323.4 585.6,324.1 586.4,324.7 587.1,325.3 587.9,325.9 588.7,326.5 589.5,327.1 590.3,327.7 591.1,328.3 591.9,328.9 592.7,329.5 593.5,330.1 594.3,330.7 595.1,331.3 595.9,331.9 596.7,332.5 597.6,333.1 598.4,333.6 599.2,334.2 600.0,334.8 600.8,335.4 601.7,335.9 602.5,336.5 603.3,337.0 604.1,337.6 605.0,338.2 605.8,338.7 606.7,339.3 607.5,339.8 608.3,340.3 609.2,340.9 610.0,341.4 610.9,341.9 611.7,342.5 612.6,343.0 613.4,343.5 614.3,344.0 615.1,344.5 616.0,345.0 616.9,345.5 617.7,346.0 618.6,346.5 619.5,347.0 620.3,347.5 621.2,348.0 622.1,348.5 623.0,348.9 623.9,349.4 624.7,349.9 625.6,350.3 626.5,350.8 627.4,351.2 628.3,351.7 629.2,352.1 630.1,352.6 631.0,353.0 631.9,353.5 632.8,353.9 633.7,354.3 634.6,354.7 635.5,355.1 636.4,355.6 637.3,356.0 638.2,356.4 639.1,356.8 640.0,357.2 641.0,357.6 641.9,358.0 642.8,358.4 643.7,358.7 644.7,359.1 645.6,359.5 646.5,359.9 647.4,360.2 648.4,360.6 649.3,361.0 650.2,361.3 651.2,361.7 652.1,362.0 653.0,362.4 654.0,362.7 654.9,363.1 655.8,363.4 656.8,363.8 657.7,364.1 658.7,364.4 659.6,364.7 660.6,365.1 661.5,365.4 662.5,365.7 663.4,366.0 664.4,366.3 665.3,366.6 666.3,366.9 667.2,367.2 668.2,367.5 669.1,367.8 670.1,368.1 671.1,368.4 672.0,368.7 673.0,369.0 673.9,369.2 674.9,369.5 675.9,369.8 676.8,370.0 677.8,370.3 678.7,370.6 679.7,370.8 680.7,371.1 681.6,371.3 682.6,371.6 683.6,371.8 684.6,372.1 685.5,372.3 686.5,372.6 687.5,372.8 688.4,373.0 689.4,373.3 690.4,373.5 691.4,373.7 692.3,373.9 693.3,374.2 694.3,374.4 695.3,374.6 696.2,374.8 697.2,375.0 698.2,375.2 699.2,375.4 700.2,375.6 701.1,375.8 702.1,376.0 703.1,376.2 704.1,376.4 705.1,376.6 706.0,376.8 707.0,376.9 708.0,377.1 709.0,377.3 710.0,377.5 711.0,377.7 711.9,377.8 712.9,378.0 713.9,378.2 714.9,378.3 715.9,378.5 716.9,378.6 717.9,378.8 718.8,379.0 719.8,379.1 720.8,379.3 721.8,379.4 722.8,379.5 723.8,379.7 724.8,379.8 725.8,380.0 726.8,380.1 727.7,380.2 728.7,380.4 729.7,380.5 730.7,380.6 731.7,380.8 732.7,380.9 733.7,381.0 734.7,381.1 735.7,381.2 736.7,381.3 737.7,381.5 738.6,381.6 739.6,381.7 740.6,381.8 741.6,381.9 742.6,382.0 743.6,382.1 744.6,382.2 745.6,382.3 746.6,382.4 747.6,382.5 748.6,382.6 749.6,382.7 750.6,382.7 751.6,382.8 752.6,382.9 753.6,383.0 754.6,383.1 755.6,383.2 756.6,383.2 757.6,383.3 758.5,383.4 759.5,383.4 760.5,383.5 761.5,383.6 762.5,383.6 763.5,383.7 764.5,383.8 765.5,383.8 766.5,383.9 767.5,383.9 768.5,384.0 769.5,384.1 770.5,384.1 771.5,384.2 772.5,384.2 773.5,384.3 774.5,384.3 775.5,384.3 776.5,384.4 777.5,384.4 778.5,384.5 779.5,384.5 780.5,384.5 781.5,384.6 782.5,384.6 783.5,384.7 784.5,384.7 785.5,384.7 786.5,384.7 787.5,384.8 788.5,384.8 789.5,384.8 790.5,384.8 791.5,384.9 792.5,384.9 793.5,384.9 794.5,384.9 795.5,384.9 796.5,385.0 797.5,385.0 798.5,385.0 799.5,385.0 800.5,385.0 801.5,385.0 802.5,385.0 803.5,385.0 804.5,385.0 805.5,385.0 806.5,385.0 807.5,385.0 808.5,385.0 809.5,385.0 810.5,385.0 811.5,385.0 812.5,385.0 813.5,385.0 814.5,385.0 815.5,384.9 816.5,384.9 817.5,384.9 818.5,384.9 819.5,384.8 820.5,384.8 821.5,384.8 822.5,384.7 823.5,384.7 824.5,384.7 825.5,384.6 826.5,384.6 827.5,384.5 828.5,384.5 829.5,384.4 830.5,384.4 831.5,384.3 832.5,384.2 833.4,384.2 834.4,384.1 835.4,384.0 836.4,383.9 837.4,383.9 838.4,383.8 839.4,383.7 840.4,383.6 841.4,383.5 842.4,383.4 843.4,383.3 844.4,383.2 845.4,383.1 846.4,382.9 847.4,382.8 848.4,382.7 849.4,382.6 850.4,382.4 851.3,382.3 852.3,382.2 853.3,382.0 854.3,381.9 855.3,381.7 856.3,381.6 857.3,381.4 858.3,381.2 859.3,381.1 860.2,380.9 861.2,380.7 862.2,380.5 863.2,380.4 864.2,380.2 865.2,380.0 866.1,379.8 867.1,379.6 868.1,379.4 869.1,379.1 870.0,378.9 871.0,378.7 872.0,378.5 873.0,378.2 873.9,378.0 874.9,377.8 875.9,377.5 876.8,377.3 877.8,377.0 878.8,376.7 879.7,376.5 880.7,376.2 881.6,375.9 882.6,375.6 883.6,375.4 884.5,375.1 885.5,374.8 886.4,374.5 887.4,374.2 888.3,373.8 889.2,373.5 890.2,373.2 891.1,372.9 892.1,372.5 893.0,372.2 894.0,371.9 894.9,371.5 895.8,371.2 896.8,370.8 897.7,370.5 898.6,370.1 899.6,369.8 900.5,369.4 901.4,369.0 902.3,368.7 903.3,368.3 904.2,367.9 905.1,367.6 906.1,367.2 907.0,366.8 907.9,366.4 908.8,366.0 909.8,365.7 910.7,365.3 911.6,364.9 912.5,364.5 913.4,364.1 914.4,363.7 915.3,363.3 916.2,363.0 917.1,362.6 918.1,362.2 919.0,361.8 919.9,361.4 920.8,361.0 921.7,360.6 922.7,360.2 923.6,359.8 924.5,359.4 925.4,359.1 926.4,358.7 927.3,358.3 928.2,357.9 929.1,357.5 930.1,357.1 931.0,356.8 931.9,356.4 932.8,356.0 933.8,355.6 934.7,355.3 935.6,354.9 936.6,354.5 937.5,354.2 938.4,353.8 939.3,353.4 940.3,353.1 941.2,352.7 942.1,352.4 943.1,352.0 944.0,351.6 944.9,351.3 945.9,350.9 946.8,350.6 947.8,350.2 948.7,349.9 949.6,349.5 950.6,349.2 951.5,348.8 952.4,348.5 953.4,348.2 954.3,347.8 955.3,347.5 956.2,347.1 957.1,346.8 958.1,346.5 959.0,346.1 960.0,345.8 960.9,345.5 961.8,345.1 962.8,344.8 963.7,344.5 964.7,344.1 965.6,343.8 966.6,343.5 967.5,343.2 968.4,342.8 969.4,342.5 970.3,342.2 971.3,341.9 972.2,341.5 973.2,341.2 974.1,340.9 975.1,340.6 976.0,340.2 977.0,339.9 977.9,339.6 978.9,339.3 979.8,339.0 980.7,338.7 981.7,338.3 982.6,338.0 983.6,337.7 984.5,337.4 985.5,337.1 986.4,336.8 987.4,336.5 988.3,336.1 989.3,335.8 990.2,335.5 991.2,335.2 992.1,334.9 993.1,334.6 994.0,334.3 995.0,334.0 995.9,333.7 996.9,333.4 997.8,333.1 998.8,332.8 999.8,332.5 1000.7,332.2 1001.7,331.9 1002.6,331.6 1003.6,331.3 1004.5,331.0 1005.5,330.7 1006.4,330.4 1007.4,330.1 1008.3,329.8 1009.3,329.5 1010.2,329.2 1011.2,328.9 1012.2,328.6 1013.1,328.3 1014.1,328.0 1015.0,327.7 1016.0,327.4 1016.9,327.1 1017.9,326.8 1018.8,326.5 1019.8,326.3 1020.8,326.0 1021.7,325.7 1022.7,325.4 1023.6,325.1 1024.6,324.8 1025.5,324.5 1026.5,324.3 1027.5,324.0 1028.4,323.7 1029.4,323.4 1030.3,323.1 1031.3,322.8 1032.3,322.6 1033.2,322.3 1034.2,322.0 1035.1,321.7 1036.1,321.4 1037.1,321.2 1038.0,320.9 1039.0,320.6 1039.9,320.3 1040.9,320.0 1041.9,319.8 1042.8,319.5 1043.8,319.2 1044.7,319.0 1045.7,318.7 1046.7,318.4 1047.6,318.1 1048.6,317.9 1049.5,317.6 1050.5,317.3 1051.5,317.1 1052.4,316.8 1053.4,316.5 1054.4,316.2 1055.3,316.0 1056.3,315.7 1057.3,315.4 1058.2,315.2 1059.2,314.9 1060.1,314.7 1061.1,314.4 1062.1,314.1 1063.0,313.9 1064.0,313.6 1065.0,313.3 1065.9,313.1 1066.9,312.8 1067.9,312.6 1068.8,312.3 1069.8,312.0 1070.8,311.8 1071.7,311.5 1072.7,311.3 1073.7,311.0 1074.6,310.8 1075.6,310.5 1076.6,310.2 1077.5,310.0 1078.5,309.7 1079.5,309.5 1080.4,309.2 1081.4,309.0 1082.4,308.7 1083.3,308.5 1084.3,308.2 1085.3,308.0 1086.2,307.7 1087.2,307.5 1088.2,307.2 1089.1,307.0 1090.1,306.7 1091.1,306.5 1092.0,306.2 1093.0,306.0 1094.0,305.7 1094.9,305.5 1095.9,305.2 1096.9,305.0 1097.8,304.8 1098.8,304.5 1099.8,304.3 1100.8,304.0 1101.7,303.8 1102.7,303.6 1103.7,303.3 1104.6,303.1 1105.6,302.8 1106.6,302.6 1107.5,302.4 1108.5,302.1 1109.5,301.9 1110.5,301.6 1111.4,301.4 1112.4,301.2 1113.4,300.9 1114.3,300.7 1115.3,300.5 1116.3,300.2 1117.3,300.0 1118.2,299.8 1119.2,299.5 1120.2,299.3 1121.1,299.1 1122.1,298.8 1123.1,298.6 1124.1,298.4 1125.0,298.1 1126.0,297.9 1127.0,297.7 1128.0,297.5 1128.9,297.2 1129.9,297.0 1130.9,296.8 1131.9,296.5 1132.8,296.3 1133.8,296.1 1134.8,295.9 1135.7,295.6 1136.7,295.4 1137.7,295.2 1138.7,295.0 1139.6,294.8 1140.6,294.5 1141.6,294.3 1142.6,294.1 1143.5,293.9 1144.5,293.6 1145.5,293.4 1146.5,293.2 1147.4,293.0 1148.4,292.8 1149.4,292.5 1150.4,292.3 1151.3,292.1 1152.3,291.9 1153.3,291.7 1154.3,291.5 1155.2,291.2 1156.2,291.0 1157.2,290.8 1158.2,290.6 1159.1,290.4 1160.1,290.2 1161.1,290.0 1162.1,289.7 1163.1,289.5 1164.0,289.3 1165.0,289.1 1166.0,288.9 1167.0,288.7 1167.9,288.5 1168.9,288.3 1169.9,288.1 1170.9,287.9 1171.8,287.6 1172.8,287.4 1173.8,287.2 1174.8,287.0 1175.8,286.8 1176.7,286.6 1177.7,286.4 1178.7,286.2 1179.7,286.0 1180.7,285.8 1181.6,285.6 1182.6,285.4 1183.6,285.2 1184.6,285.0 1185.5,284.8 1186.5,284.6 1187.5,284.4 1188.5,284.2 1189.5,284.0 1190.4,283.8 1191.4,283.6 1192.4,283.4 1193.4,283.2 1194.4,283.0 1195.3,282.8 1196.3,282.6 1197.3,282.4 1198.3,282.2 1199.3,282.0 1200.2,281.8 1201.2,281.6 1202.2,281.4 1203.2,281.2 1204.2,281.0 1205.1,280.8 1206.1,280.6 1207.1,280.4 1208.1,280.2 1209.1,280.0 1210.0,279.8 1211.0,279.6 1212.0,279.4 1213.0,279.2 1214.0,279.0 1214.9,278.8 1215.9,278.7 1216.9,278.5 1217.9,278.3 1218.9,278.1 1219.8,277.9 1220.8,277.7 1221.8,277.5 1222.8,277.3 1223.8,277.1 1224.8,277.0 1225.7,276.8 1226.7,276.6 1227.7,276.4 1228.7,276.2 1229.7,276.0 1230.6,275.8 1231.6,275.6 1232.6,275.5 1233.6,275.3 1234.6,275.1 1235.6,274.9 1236.5,274.7 1237.5,274.5 1238.5,274.3 1239.5,274.2 1240.5,274.0 1241.5,273.8 1242.4,273.6 1243.4,273.4 1244.4,273.3 1245.4,273.1 1246.4,272.9 1247.3,272.7 1248.3,272.5 1249.3,272.3 1250.3,272.2 1251.3,272.0 1252.3,271.8 1253.2,271.6 1254.2,271.5 1255.2,271.3 1256.2,271.1 1257.2,270.9 1258.2,270.7 1259.1,270.6 1260.1,270.4 1261.1,270.2 1262.1,270.0 1263.1,269.9 1264.1,269.7 1265.1,269.5 1266.0,269.3 1267.0,269.2 1268.0,269.0" stroke="#00dc10" stroke-width="3.9" fill="none" stroke-linejoin="round"/>
</g>
<path d="M1276.6,166.2H1408.3" stroke="#ffba00" stroke-width="6" stroke-dasharray="12 13" fill="none"/>
<path d="M1276.4,166.2H1408.0" stroke="#00dc10" stroke-width="3.2" stroke-dasharray="8.3 8.7" fill="none"/>
<path d="M1276.4,172.6H1408.0" stroke="#00a8ff" stroke-width="4" stroke-dasharray="8.3 8.7" fill="none"/>
<path d="M1276.4,234.2H1408.0" stroke="#606060" stroke-width="4" stroke-dasharray="8.3 8.7" fill="none"/>
<path d="M1276.4,390.7H1408.0" stroke="#ffba00" stroke-width="4" stroke-dasharray="8.3 8.7" fill="none"/>
<path d="M1276.4,405.6H1408.0" stroke="#ff1e10" stroke-width="4" stroke-dasharray="8.3 8.7" fill="none"/>
<path d="M1276.4,452.8H1408.0" stroke="#00a8ff" stroke-width="4" stroke-dasharray="8.3 8.7" fill="none"/>
<path d="M1276.4,562.2H1408.0" stroke="#e84890" stroke-width="4" stroke-dasharray="8.3 8.7" fill="none"/>
<g font-family="Liberation Serif" fill="#000" stroke="#000" stroke-width="0.3">
<text x="1286.3" y="126.9" font-size="38.6" text-anchor="start" >4f+2s</text>
<text x="1286.3" y="156.4" font-size="38.6" text-anchor="start" >4d+2s</text>
<text x="1286.3" y="200.2" font-size="38.6" text-anchor="start" >4p+2s</text>
<text x="1288.9" y="263.6" font-size="38.6" text-anchor="start" >4s+2s</text>
<text x="1279.0" y="384.8" font-size="38.6" text-anchor="start" >3d+2s</text>
<text x="1279.0" y="436.2" font-size="38.6" text-anchor="start" >3p+2s</text>
<text x="1276.2" y="485.3" font-size="38.6" text-anchor="start" >2p+2p</text>
<text x="1283.9" y="598.9" font-size="38.6" text-anchor="start" >3s+2s</text>
<text transform="translate(182.4,37.8) scale(0.965,1)" font-size="43.6" text-anchor="end">40,000</text>
<text transform="translate(182.4,248.1) scale(0.965,1)" font-size="43.6" text-anchor="end">35,000</text>
<text transform="translate(182.4,458.4) scale(0.965,1)" font-size="43.6" text-anchor="end">30,000</text>
<text transform="translate(182.4,668.7) scale(0.965,1)" font-size="43.6" text-anchor="end">25,000</text>
<text transform="translate(182.4,879.0) scale(0.965,1)" font-size="43.6" text-anchor="end">20,000</text>
<text transform="translate(218.9,923.0) scale(0.965,1)" font-size="43.6" text-anchor="middle">0</text>
<text transform="translate(428.8,923.0) scale(0.965,1)" font-size="43.6" text-anchor="middle">10</text>
<text transform="translate(638.7,923.0) scale(0.965,1)" font-size="43.6" text-anchor="middle">20</text>
<text transform="translate(848.5,923.0) scale(0.965,1)" font-size="43.6" text-anchor="middle">30</text>
<text transform="translate(1058.4,923.0) scale(0.965,1)" font-size="43.6" text-anchor="middle">40</text>
<text transform="translate(1268.3,923.0) scale(0.965,1)" font-size="43.6" text-anchor="middle">50</text>
<text x="517.5" y="992.4" font-size="42.0" text-anchor="start" >Internuclear distance [a.u.]</text>
<text x="0.0" y="0.0" font-size="41.9" text-anchor="start" transform="translate(34.4,565.5) rotate(-90)">Energy [1/cm]</text>
</g>
<rect x="983.9" y="571.3" width="239.3" height="314.5" fill="#fff" stroke="#666" stroke-width="2"/>
<path d="M1056.2,602.9H1107.5" stroke="#00dc10" stroke-width="4"/>
<path d="M1056.2,666.1H1107.5" stroke="#ffba00" stroke-width="4"/>
<path d="M1056.2,729.0H1107.5" stroke="#ff0000" stroke-width="4"/>
<path d="M1056.2,791.2H1107.5" stroke="#a8004c" stroke-width="4"/>
<path d="M1056.2,854.3H1107.5" stroke="#000" stroke-width="4" stroke-dasharray="8 9"/>
<g font-family="Liberation Serif" fill="#000" stroke="#000" stroke-width="0.3">
<text x="1115.3" y="615.4" font-size="40" text-anchor="start" >5</text>
<text x="1136.2" y="600.8" font-size="28" text-anchor="start" >1</text>
<text transform="translate(1149.6,615.2) scale(1.16,1)" font-size="39">&#931;</text>
<text x="1173.8" y="605.2" font-size="34" text-anchor="start" >+</text>
<text x="1174.2" y="624.3" font-size="25" text-anchor="start" font-style="italic">u</text>
<text x="1115.3" y="678.6" font-size="40" text-anchor="start" >4</text>
<text x="1136.2" y="664.0" font-size="28" text-anchor="start" >1</text>
<text transform="translate(1149.6,678.4) scale(1.16,1)" font-size="39">&#931;</text>
<text x="1173.8" y="668.4" font-size="34" text-anchor="start" >+</text>
<text x="1174.2" y="687.5" font-size="25" text-anchor="start" font-style="italic">u</text>
<text x="1115.3" y="741.5" font-size="40" text-anchor="start" >3</text>
<text x="1136.2" y="726.9" font-size="28" text-anchor="start" >1</text>
<text transform="translate(1149.6,741.3) scale(1.16,1)" font-size="39">&#931;</text>
<text x="1173.8" y="731.3" font-size="34" text-anchor="start" >+</text>
<text x="1174.2" y="750.4" font-size="25" text-anchor="start" font-style="italic">u</text>
<text x="1115.3" y="803.7" font-size="40" text-anchor="start" >2</text>
<text x="1136.2" y="789.1" font-size="28" text-anchor="start" >1</text>
<text transform="translate(1149.6,803.5) scale(1.16,1)" font-size="39">&#931;</text>
<text x="1173.8" y="793.5" font-size="34" text-anchor="start" >+</text>
<text x="1174.2" y="812.6" font-size="25" text-anchor="start" font-style="italic">u</text>
<rect x="1119.0" y="852.1" width="20.2" height="2.6" fill="#000"/>
<text x="1145.4" y="862.6" font-size="39" text-anchor="start" >1</text>
<text x="1166.9" y="862.6" font-size="39" text-anchor="start" >/</text>
<text x="1180.3" y="862.6" font-size="39" text-anchor="start" font-style="italic">R</text>
</g>
</g>
</svg>
</body></html>
